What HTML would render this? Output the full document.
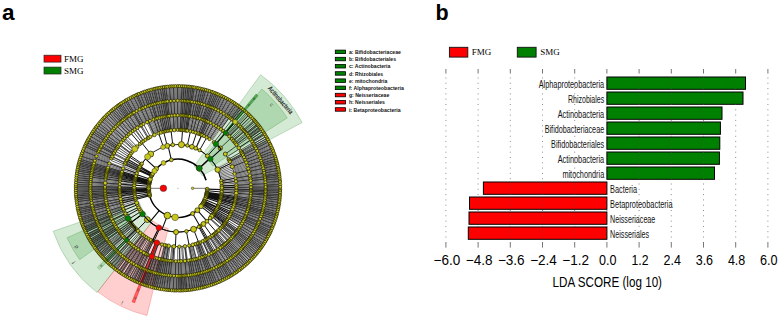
<!DOCTYPE html>
<html><head><meta charset="utf-8"><style>
html,body{margin:0;padding:0;background:#fff;}
body{width:778px;height:317px;overflow:hidden;}
svg{display:block;font-family:"Liberation Sans",sans-serif;}
.serif{font-family:"Liberation Serif",serif;}
</style></head><body>
<svg width="778" height="317" viewBox="0 0 778 317">
<rect width="778" height="317" fill="#fff"/>
<text x="2" y="20.3" font-size="22.5" font-weight="bold">a</text>
<text x="435.5" y="20.3" font-size="21.5" font-weight="bold">b</text>
<rect x="44" y="55.2" width="17" height="6.9" fill="#ff0000" stroke="#222" stroke-width="0.7"/>
<rect x="44" y="67.1" width="17" height="6.9" fill="#008000" stroke="#222" stroke-width="0.7"/>
<text class="serif" x="64" y="62.1" font-size="9">FMG</text>
<text class="serif" x="64" y="73.8" font-size="9">SMG</text>
<rect x="449.4" y="47.3" width="18.4" height="9.8" fill="#ff0000" stroke="#111" stroke-width="0.9"/>
<rect x="517.3" y="47.3" width="18.8" height="9.8" fill="#008000" stroke="#111" stroke-width="0.9"/>
<text class="serif" x="471.7" y="55.3" font-size="9">FMG</text>
<text class="serif" x="540.3" y="55.3" font-size="9">SMG</text>
<path d="M260.58 74.63A140.5 140.5 0 0 1 302.17 122.56L202.04 175.57A27.2 27.2 0 0 0 193.99 166.29Z" fill="rgba(0,128,0,0.17)" stroke="rgba(0,110,0,0.35)" stroke-width="0.6"/>
<path d="M261.91 89.01A130 130 0 0 1 287.27 117.88L212.72 165.93A41.3 41.3 0 0 0 204.66 156.76Z" fill="rgba(0,128,0,0.17)" stroke="rgba(0,110,0,0.35)" stroke-width="0.6"/>
<path d="M255.96 94.07A122.3 122.3 0 0 1 258.07 95.86L214.6 146.05A55.9 55.9 0 0 0 213.63 145.23Z" fill="rgba(0,128,0,0.28)" stroke="rgba(0,110,0,0.35)" stroke-width="0.6"/>
<path d="M256.12 94.2A122.3 122.3 0 0 1 257.91 95.72L224.07 134.93A70.5 70.5 0 0 0 223.03 134.06Z" fill="rgba(0,128,0,0.28)" stroke="rgba(0,110,0,0.35)" stroke-width="0.6"/>
<path d="M97.1 292.6A132 132 0 0 1 53.19 231.27L138.95 201.75A41.3 41.3 0 0 0 152.69 220.93Z" fill="rgba(0,128,0,0.17)" stroke="rgba(0,110,0,0.35)" stroke-width="0.6"/>
<path d="M79.7 259.72A121.5 121.5 0 0 1 67 237.72L126.93 211.04A55.9 55.9 0 0 0 132.78 221.16Z" fill="rgba(0,128,0,0.17)" stroke="rgba(0,110,0,0.35)" stroke-width="0.6"/>
<path d="M99.5 269.59A113 113 0 0 1 97.26 267.36L127.63 237.63A70.5 70.5 0 0 0 129.03 239.01Z" fill="rgba(0,128,0,0.17)" stroke="rgba(0,110,0,0.35)" stroke-width="0.6"/>
<path d="M146.97 315.57A131 131 0 0 1 97.71 291.81L152.69 220.93A41.3 41.3 0 0 0 168.22 228.42Z" fill="rgba(255,0,0,0.19)" stroke="rgba(220,0,0,0.35)" stroke-width="0.6"/>
<path d="M134.73 302.8A122.4 122.4 0 0 1 131.95 301.71L156.97 240.09A55.9 55.9 0 0 0 158.24 240.59Z" fill="rgba(255,0,0,0.3)" stroke="rgba(220,0,0,0.35)" stroke-width="0.6"/>
<path d="M134.53 302.72A122.4 122.4 0 0 1 132.15 301.79L151.59 253.67A70.5 70.5 0 0 0 152.96 254.21Z" fill="rgba(255,0,0,0.3)" stroke="rgba(220,0,0,0.35)" stroke-width="0.6"/>
<path d="M222.4 188.3L235.8 188.3M222.38 189.6L235.78 190M222.32 190.91L235.7 191.69M222.23 192.21L235.58 193.38M222.09 193.5L235.4 195.07M221.92 194.79L235.18 196.75M221.71 196.08L234.91 198.43M221.47 197.36L234.58 200.1M221.18 198.63L234.21 201.75M220.86 199.9L233.79 203.4M220.5 201.15L233.33 205.03M220.1 202.39L232.81 206.64M219.67 203.62L232.25 208.25M219.2 204.84L231.64 209.83M218.7 206.04L230.99 211.4M218.16 207.23L230.28 212.94M217.59 208.4L229.54 214.47M216.98 209.55L228.75 215.97M216.34 210.69L227.91 217.44M215.67 211.8L227.04 218.9M214.96 212.9L226.12 220.32M214.22 213.97L225.16 221.72M213.46 215.03L224.16 223.09M212.66 216.06L223.11 224.43M210.08 219L219.76 228.26M135.9 202.39L123.19 206.64M135.5 201.15L122.67 205.03M135.14 199.9L122.21 203.4M134.82 198.63L121.79 201.75M134.53 197.36L121.42 200.1M134.29 196.08L121.09 198.43M134.08 194.79L120.82 196.75M133.91 193.5L120.6 195.07M133.77 192.21L120.42 193.38M133.68 190.91L120.3 191.69M133.62 189.6L120.22 190M133.6 188.3L120.2 188.3M133.62 187L120.22 186.6M133.68 185.69L120.3 184.91M133.77 184.39L120.42 183.22M133.91 183.1L120.6 181.53M134.08 181.81L120.82 179.85M134.29 180.52L121.09 178.17M134.53 179.24L121.42 176.5M134.82 177.97L121.79 174.85M135.14 176.7L122.21 173.2M135.5 175.45L122.67 171.57M135.9 174.21L123.19 169.96M136.33 172.98L123.75 168.35M136.8 171.76L124.36 166.77M137.3 170.56L125.01 165.2M137.84 169.37L125.72 163.66M138.41 168.2L126.46 162.13M139.02 167.05L127.25 160.63M139.66 165.91L128.09 159.16M196.34 147.86L201.87 135.66M217.59 168.2L229.54 162.13M218.16 169.37L230.28 163.66M218.7 170.56L230.99 165.2M219.2 171.76L231.64 166.77M219.67 172.98L232.25 168.35M220.1 174.21L232.81 169.96M220.5 175.45L233.33 171.57M220.86 176.7L233.79 173.2M221.18 177.97L234.21 174.85M221.47 179.24L234.58 176.5M221.71 180.52L234.91 178.17M221.92 181.81L235.18 179.85M222.09 183.1L235.4 181.53M222.23 184.39L235.58 183.22M222.32 185.69L235.7 184.91M222.38 187L235.78 186.6M237 188.3L250.4 188.3M236.99 189.29L250.39 189.51M236.97 190.28L250.36 190.73M236.93 191.26L250.31 191.94M236.87 192.25L250.24 193.15M236.79 193.24L250.15 194.36M236.7 194.22L250.03 195.57M236.59 195.2L249.9 196.77M236.47 196.18L249.75 197.98M236.33 197.16L249.58 199.18M236.17 198.14L249.39 200.37M236 199.11L249.17 201.57M235.81 200.08L248.94 202.76M235.61 201.05L248.69 203.95M235.38 202.01L248.42 205.13M235.15 202.97L248.13 206.31M234.89 203.93L247.81 207.48M234.62 204.88L247.48 208.64M234.34 205.83L247.13 209.81M234.04 206.77L246.76 210.96M233.72 207.7L246.37 212.11M233.39 208.63L245.96 213.25M233.04 209.56L245.54 214.39M232.67 210.48L245.09 215.52M232.29 211.39L244.62 216.64M231.9 212.3L244.14 217.75M231.49 213.2L243.64 218.85M231.06 214.09L243.12 219.95M230.63 214.98L242.58 221.03M230.17 215.85L242.02 222.11M229.7 216.72L241.44 223.18M229.22 217.59L240.85 224.24M228.72 218.44L240.24 225.29M226.59 221.77L237.62 229.37M226.02 222.58L236.93 230.36M225.44 223.38L236.21 231.34M224.85 224.17L235.48 232.31M223.62 225.72L233.98 234.22M222.98 226.48L233.2 235.15M222.34 227.22L232.41 236.07M221.68 227.96L231.6 236.97M220.33 229.4L229.94 238.74M219.63 230.11L229.09 239.6M218.93 230.8L228.22 240.45M218.21 231.48L227.34 241.28M215.99 233.44L224.62 243.7M215.23 234.07L223.68 244.47M213.67 235.3L221.77 245.97M212.88 235.89L220.8 246.69M211.27 237.03L218.82 248.1M210.44 237.58L217.81 248.77M209.61 238.12L216.79 249.43M207.07 239.64L213.67 251.3M206.21 240.12L212.61 251.89M205.33 240.59L211.54 252.46M203.57 241.47L209.37 253.55M202.67 241.89L208.28 254.07M200.86 242.69L206.06 255.04M199.95 243.07L204.93 255.5M199.03 243.43L203.8 255.95M198.1 243.77L202.67 256.37M197.17 244.1L201.52 256.77M196.23 244.41L200.37 257.16M192.43 245.51L195.71 258.5M191.47 245.74L194.53 258.79M190.51 245.96L193.35 259.05M189.54 246.16L192.16 259.3M188.57 246.35L190.97 259.53M185.64 246.8L187.37 260.09M184.66 246.92L186.17 260.24M182.69 247.11L183.76 260.47M181.7 247.18L182.55 260.56M179.73 247.27L180.12 260.67M177.75 247.3L177.7 260.7M174.79 247.21L174.06 260.59M173.8 247.15L172.85 260.52M172.82 247.07L171.64 260.42M171.83 246.98L170.43 260.3M169.87 246.74L168.02 260.01M168.89 246.59L166.82 259.83M167.92 246.43L165.63 259.63M166.94 246.25L164.43 259.42M165.98 246.06L163.24 259.18M165.01 245.85L162.06 258.92M158.36 243.94L153.9 256.57M157.43 243.6L152.76 256.16M155.59 242.88L150.5 255.28M152.88 241.68L147.17 253.81M151.99 241.26L146.08 253.28M151.1 240.81L145 252.74M149.36 239.88L142.86 251.6M146.8 238.38L139.72 249.75M145.97 237.85L138.7 249.1M145.14 237.31L137.68 248.44M144.33 236.75L136.68 247.75M142.72 235.59L134.71 246.33M141.94 234.99L133.75 245.6M141.16 234.38L132.79 244.85M138.89 232.47L130.01 242.51M137.43 231.14L128.22 240.87M136.72 230.45L127.34 240.03M134.65 228.33L124.81 237.42M132.7 226.1L122.41 234.68M132.07 225.33L121.64 233.74M131.46 224.56L120.89 232.79M130.86 223.77L120.15 231.83M129.69 222.17L118.72 229.87M127.53 218.86L116.07 225.81M126.54 217.16L114.85 223.71M125.15 214.53L113.15 220.49M124.72 213.64L112.62 219.4M123.9 211.85L111.61 217.19M123.51 210.94L111.14 216.08M122.79 209.1L110.25 213.82M122.45 208.17L109.83 212.68M122.12 207.24L109.43 211.54M121.81 206.3L109.05 210.38M121.52 205.35L108.69 209.23M121.24 204.4L108.35 208.06M120.98 203.45L108.03 206.89M120.73 202.49L107.73 205.72M120.5 201.53L107.44 204.54M120.29 200.57L107.18 203.35M120.09 199.6L106.94 202.16M119.91 198.63L106.72 200.97M119.75 197.65L106.52 199.78M119.6 196.67L106.33 198.58M119.47 195.69L106.17 197.37M119.35 194.71L106.03 196.17M119.25 193.73L105.91 194.96M119.17 192.74L105.81 193.75M119.1 191.76L105.72 192.54M119.05 190.77L105.66 191.33M119.02 189.78L105.62 190.12M119 188.79L105.6 188.91M119 187.81L105.6 187.69M119.02 186.82L105.62 186.48M119.05 185.83L105.66 185.27M119.1 184.84L105.72 184.06M119.17 183.86L105.81 182.85M119.25 182.87L105.91 181.64M119.35 181.89L106.03 180.43M119.47 180.91L106.17 179.23M119.6 179.93L106.33 178.02M119.75 178.95L106.52 176.82M119.91 177.97L106.72 175.63M120.09 177L106.94 174.44M120.29 176.03L107.18 173.25M120.5 175.07L107.44 172.06M120.73 174.11L107.73 170.88M120.98 173.15L108.03 169.71M121.24 172.2L108.35 168.54M121.52 171.25L108.69 167.37M121.81 170.3L109.05 166.22M122.12 169.36L109.43 165.06M122.45 168.43L109.83 163.92M122.79 167.5L110.25 162.78M123.51 165.66L111.14 160.52M124.72 162.96L112.62 157.2M130.27 153.62L119.43 145.74M130.86 152.83L120.15 144.77M133.34 149.75L123.19 140.99M134.65 148.27L124.81 139.18M135.33 147.55L125.64 138.3M139.64 143.48L130.92 133.3M143.52 140.42L135.69 129.55M152.88 134.92L147.17 122.79M153.78 134.5L148.28 122.28M154.68 134.1L149.39 121.79M155.59 133.72L150.5 121.32M156.51 133.35L151.63 120.87M157.43 133L152.76 120.44M158.36 132.66L153.9 120.03M159.3 132.34L155.05 119.63M160.24 132.04L156.2 119.26M161.18 131.75L157.36 118.9M162.13 131.47L158.53 118.57M163.09 131.22L159.7 118.25M164.05 130.97L160.88 117.95M165.01 130.75L162.06 117.68M165.98 130.54L163.24 117.42M166.94 130.35L164.43 117.18M167.92 130.17L165.63 116.97M168.89 130.01L166.82 116.77M169.87 129.86L168.02 116.59M170.85 129.73L169.23 116.43M171.83 129.62L170.43 116.3M172.82 129.53L171.64 116.18M173.8 129.45L172.85 116.08M174.79 129.39L174.06 116.01M175.78 129.34L175.27 115.95M176.76 129.31L176.48 115.92M177.75 129.3L177.7 115.9M178.74 129.3L178.91 115.91M179.73 129.33L180.12 115.93M180.72 129.36L181.33 115.98M181.7 129.42L182.55 116.04M182.69 129.49L183.76 116.13M183.68 129.57L184.96 116.24M184.66 129.68L186.17 116.36M185.64 129.8L187.37 116.51M186.62 129.93L188.58 116.68M187.6 130.09L189.77 116.86M188.57 130.25L190.97 117.07M189.54 130.44L192.16 117.3M190.51 130.64L193.35 117.55M191.47 130.86L194.53 117.81M192.43 131.09L195.71 118.1M193.39 131.34L196.88 118.41M194.34 131.61L198.05 118.73M195.29 131.89L199.22 119.08M196.23 132.19L200.37 119.44M197.17 132.5L201.52 119.83M198.1 132.83L202.67 120.23M199.03 133.17L203.8 120.65M199.95 133.53L204.93 121.1M200.86 133.91L206.06 121.56M201.77 134.3L207.17 122.04M202.67 134.71L208.28 122.53M203.57 135.13L209.37 123.05M204.45 135.56L210.46 123.59M205.33 136.01L211.54 124.14M206.21 136.48L212.61 124.71M207.07 136.96L213.67 125.3M207.93 137.45L214.72 125.91M208.77 137.96L215.76 126.53M209.61 138.48L216.79 127.17M210.44 139.02L217.81 127.83M211.27 139.57L218.82 128.5M212.08 140.14L219.82 129.2M227.68 156.48L238.97 149.25M230.17 160.75L242.02 154.49M230.63 161.62L242.58 155.57M231.06 162.51L243.12 156.65M231.49 163.4L243.64 157.75M231.9 164.3L244.14 158.85M232.29 165.21L244.62 159.96M232.67 166.12L245.09 161.08M233.04 167.04L245.54 162.21M233.39 167.97L245.96 163.35M233.72 168.9L246.37 164.49M234.04 169.83L246.76 165.64M234.34 170.77L247.13 166.79M234.62 171.72L247.48 167.96M234.89 172.67L247.81 169.12M235.15 173.63L248.13 170.29M235.38 174.59L248.42 171.47M235.61 175.55L248.69 172.65M235.81 176.52L248.94 173.84M236 177.49L249.17 175.03M236.17 178.46L249.39 176.23M236.33 179.44L249.58 177.42M236.47 180.42L249.75 178.62M236.59 181.4L249.9 179.83M236.7 182.38L250.03 181.03M236.79 183.36L250.15 182.24M236.87 184.35L250.24 183.45M236.93 185.34L250.31 184.66M236.97 186.32L250.36 185.87M236.99 187.31L250.39 187.09M251.6 188.3L265 188.3M251.59 189.22L264.99 189.38M251.58 190.13L264.97 190.47M251.55 191.05L264.94 191.55M251.51 191.97L264.89 192.64M251.46 192.88L264.83 193.72M251.39 193.8L264.76 194.8M251.32 194.71L264.67 195.88M251.23 195.63L264.57 196.96M251.14 196.54L264.45 198.04M251.03 197.45L264.32 199.12M250.91 198.36L264.18 200.19M250.78 199.27L264.03 201.27M250.64 200.18L263.86 202.34M250.48 201.08L263.68 203.41M250.32 201.98L263.48 204.47M250.14 202.88L263.28 205.54M249.95 203.78L263.05 206.6M249.75 204.68L262.82 207.66M249.54 205.57L262.57 208.72M249.32 206.46L262.31 209.77M249.09 207.35L262.04 210.82M248.85 208.23L261.75 211.86M248.6 209.12L261.45 212.91M248.33 209.99L261.13 213.94M248.05 210.87L260.81 214.98M247.77 211.74L260.47 216.01M247.47 212.61L260.12 217.03M247.16 213.47L259.75 218.06M246.84 214.33L259.38 219.07M246.51 215.19L258.99 220.08M246.17 216.04L258.58 221.09M245.82 216.89L258.17 222.09M245.46 217.73L257.74 223.09M245.09 218.57L257.3 224.08M244.7 219.4L256.85 225.07M244.31 220.23L256.38 226.05M243.91 221.06L255.91 227.02M243.49 221.88L255.42 227.99M243.07 222.69L254.92 228.95M242.64 223.5L254.41 229.91M242.19 224.3L253.88 230.86M241.74 225.1L253.34 231.8M241.28 225.89L252.8 232.74M240.8 226.68L252.24 233.66M240.32 227.46L251.67 234.59M239.83 228.23L251.08 235.5M239.32 229L250.49 236.41M238.81 229.76L249.88 237.31M238.29 230.52L249.27 238.2M237.76 231.26L248.64 239.09M237.22 232.01L248 239.96M236.67 232.74L247.35 240.83M236.11 233.47L246.69 241.69M235.54 234.19L246.02 242.54M234.97 234.9L245.34 243.39M234.38 235.61L244.65 244.22M233.79 236.31L243.94 245.05M233.18 237L243.23 245.87M232.57 237.68L242.51 246.68M231.95 238.36L241.78 247.48M231.32 239.03L241.03 248.27M230.69 239.69L240.28 249.05M230.04 240.34L239.52 249.82M229.39 240.99L238.75 250.58M228.73 241.62L237.97 251.33M228.06 242.25L237.18 252.08M227.38 242.87L236.38 252.81M226.7 243.48L235.57 253.53M226.01 244.09L234.75 254.24M225.31 244.68L233.92 254.95M224.6 245.27L233.09 255.64M223.89 245.84L232.24 256.32M223.17 246.41L231.39 256.99M222.44 246.97L230.53 257.65M221.71 247.52L229.66 258.3M220.96 248.06L228.79 258.94M220.22 248.59L227.9 259.57M219.46 249.11L227.01 260.18M218.7 249.62L226.11 260.79M217.93 250.13L225.2 261.38M217.16 250.62L224.29 261.97M216.38 251.1L223.36 262.54M215.59 251.58L222.44 263.1M214.8 252.04L221.5 263.64M214 252.49L220.56 264.18M213.2 252.94L219.61 264.71M212.39 253.37L218.65 265.22M211.58 253.79L217.69 265.72M210.76 254.21L216.72 266.21M209.93 254.61L215.75 266.68M209.1 255L214.77 267.15M208.27 255.39L213.78 267.6M207.43 255.76L212.79 268.04M206.59 256.12L211.79 268.47M205.74 256.47L210.79 268.88M204.89 256.81L209.78 269.29M204.03 257.14L208.77 269.68M203.17 257.46L207.76 270.05M202.31 257.77L206.73 270.42M201.44 258.07L205.71 270.77M200.57 258.35L204.68 271.11M199.69 258.63L203.64 271.43M198.82 258.9L202.61 271.75M197.93 259.15L201.56 272.05M197.05 259.39L200.52 272.34M196.16 259.62L199.47 272.61M195.27 259.84L198.42 272.87M194.38 260.05L197.36 273.12M193.48 260.25L196.3 273.35M192.58 260.44L195.24 273.58M191.68 260.62L194.17 273.78M190.78 260.78L193.11 273.98M189.88 260.94L192.04 274.16M188.97 261.08L190.97 274.33M188.06 261.21L189.89 274.48M187.15 261.33L188.82 274.62M186.24 261.44L187.74 274.75M185.33 261.53L186.66 274.87M184.41 261.62L185.58 274.97M183.5 261.69L184.5 275.06M182.58 261.76L183.42 275.13M181.67 261.81L182.34 275.19M180.75 261.85L181.25 275.24M179.83 261.88L180.17 275.27M178.92 261.89L179.08 275.29M178 261.9L178 275.3M177.08 261.89L176.92 275.29M176.17 261.88L175.83 275.27M175.25 261.85L174.75 275.24M174.33 261.81L173.66 275.19M173.42 261.76L172.58 275.13M172.5 261.69L171.5 275.06M171.59 261.62L170.42 274.97M170.67 261.53L169.34 274.87M169.76 261.44L168.26 274.75M168.85 261.33L167.18 274.62M167.94 261.21L166.11 274.48M167.03 261.08L165.03 274.33M166.12 260.94L163.96 274.16M165.22 260.78L162.89 273.98M164.32 260.62L161.83 273.78M163.42 260.44L160.76 273.58M162.52 260.25L159.7 273.35M161.62 260.05L158.64 273.12M160.73 259.84L157.58 272.87M159.84 259.62L156.53 272.61M158.95 259.39L155.48 272.34M158.07 259.15L154.44 272.05M157.18 258.9L153.39 271.75M156.31 258.63L152.36 271.43M155.43 258.35L151.32 271.11M154.56 258.07L150.29 270.77M153.69 257.77L149.27 270.42M152.83 257.46L148.24 270.05M151.97 257.14L147.23 269.68M150.26 256.47L145.21 268.88M148.57 255.76L143.21 268.04M147.73 255.39L142.22 267.6M145.24 254.21L139.28 266.21M144.42 253.79L138.31 265.72M143.61 253.37L137.35 265.22M142.8 252.94L136.39 264.71M142 252.49L135.44 264.18M141.2 252.04L134.5 263.64M140.41 251.58L133.56 263.1M139.62 251.1L132.64 262.54M138.84 250.62L131.71 261.97M138.07 250.13L130.8 261.38M137.3 249.62L129.89 260.79M136.54 249.11L128.99 260.18M135.78 248.59L128.1 259.57M135.04 248.06L127.21 258.94M134.29 247.52L126.34 258.3M133.56 246.97L125.47 257.65M132.83 246.41L124.61 256.99M132.11 245.84L123.76 256.32M130.69 244.68L122.08 254.95M129.3 243.48L120.43 253.53M128.62 242.87L119.62 252.81M127.94 242.25L118.82 252.08M126.61 240.99L117.25 250.58M125.96 240.34L116.48 249.82M125.31 239.69L115.72 249.05M123.43 237.68L113.49 246.68M122.82 237L112.77 245.87M122.21 236.31L112.06 245.05M121.62 235.61L111.35 244.22M121.03 234.9L110.66 243.39M119.89 233.47L109.31 241.69M118.24 231.26L107.36 239.09M117.19 229.76L106.12 237.31M116.68 229L105.51 236.41M116.17 228.23L104.92 235.5M115.68 227.46L104.33 234.59M115.2 226.68L103.76 233.66M114.72 225.89L103.2 232.74M114.26 225.1L102.66 231.8M113.81 224.3L102.12 230.86M112.51 221.88L100.58 227.99M112.09 221.06L100.09 227.02M111.69 220.23L99.62 226.05M111.3 219.4L99.15 225.07M110.91 218.57L98.7 224.08M110.54 217.73L98.26 223.09M110.18 216.89L97.83 222.09M109.83 216.04L97.42 221.09M109.49 215.19L97.01 220.08M108.84 213.47L96.25 218.06M108.53 212.61L95.88 217.03M108.23 211.74L95.53 216.01M107.95 210.87L95.19 214.98M107.67 209.99L94.87 213.94M107.4 209.12L94.55 212.91M107.15 208.23L94.25 211.86M106.91 207.35L93.96 210.82M106.68 206.46L93.69 209.77M106.46 205.57L93.43 208.72M106.25 204.68L93.18 207.66M106.05 203.78L92.95 206.6M105.86 202.88L92.72 205.54M105.68 201.98L92.52 204.47M105.52 201.08L92.32 203.41M105.36 200.18L92.14 202.34M105.22 199.27L91.97 201.27M105.09 198.36L91.82 200.19M104.97 197.45L91.68 199.12M104.86 196.54L91.55 198.04M104.77 195.63L91.43 196.96M104.68 194.71L91.33 195.88M104.61 193.8L91.24 194.8M104.54 192.88L91.17 193.72M104.49 191.97L91.11 192.64M104.45 191.05L91.06 191.55M104.42 190.13L91.03 190.47M104.41 189.22L91.01 189.38M104.4 188.3L91 188.3M104.41 187.38L91.01 187.22M104.42 186.47L91.03 186.13M104.45 185.55L91.06 185.05M104.49 184.63L91.11 183.96M104.54 183.72L91.17 182.88M104.61 182.8L91.24 181.8M104.68 181.89L91.33 180.72M104.77 180.97L91.43 179.64M104.86 180.06L91.55 178.56M104.97 179.15L91.68 177.48M105.09 178.24L91.82 176.41M105.22 177.33L91.97 175.33M105.36 176.42L92.14 174.26M105.52 175.52L92.32 173.19M105.68 174.62L92.52 172.13M105.86 173.72L92.72 171.06M106.05 172.82L92.95 170M106.25 171.92L93.18 168.94M106.46 171.03L93.43 167.88M106.68 170.14L93.69 166.83M106.91 169.25L93.96 165.78M107.15 168.37L94.25 164.74M107.4 167.48L94.55 163.69M107.67 166.61L94.87 162.66M107.95 165.73L95.19 161.62M108.23 164.86L95.53 160.59M108.53 163.99L95.88 159.57M108.84 163.13L96.25 158.54M109.16 162.27L96.62 157.53M109.49 161.41L97.01 156.52M109.83 160.56L97.42 155.51M110.18 159.71L97.83 154.51M110.54 158.87L98.26 153.51M110.91 158.03L98.7 152.52M111.3 157.2L99.15 151.53M111.69 156.37L99.62 150.55M112.09 155.54L100.09 149.58M112.51 154.72L100.58 148.61M112.93 153.91L101.08 147.65M113.36 153.1L101.59 146.69M113.81 152.3L102.12 145.74M114.26 151.5L102.66 144.8M114.72 150.71L103.2 143.86M115.2 149.92L103.76 142.94M115.68 149.14L104.33 142.01M116.17 148.37L104.92 141.1M116.68 147.6L105.51 140.19M117.19 146.84L106.12 139.29M117.71 146.08L106.73 138.4M118.24 145.34L107.36 137.51M118.78 144.59L108 136.64M119.33 143.86L108.65 135.77M119.89 143.13L109.31 134.91M120.46 142.41L109.98 134.06M121.03 141.7L110.66 133.21M121.62 140.99L111.35 132.38M122.21 140.29L112.06 131.55M122.82 139.6L112.77 130.73M123.43 138.92L113.49 129.92M124.05 138.24L114.22 129.12M124.68 137.57L114.97 128.33M125.31 136.91L115.72 127.55M125.96 136.26L116.48 126.78M126.61 135.61L117.25 126.02M127.27 134.98L118.03 125.27M127.94 134.35L118.82 124.52M128.62 133.73L119.62 123.79M129.3 133.12L120.43 123.07M129.99 132.51L121.25 122.36M130.69 131.92L122.08 121.65M131.4 131.33L122.91 120.96M132.11 130.76L123.76 120.28M132.83 130.19L124.61 119.61M133.56 129.63L125.47 118.95M134.29 129.08L126.34 118.3M135.04 128.54L127.21 117.66M135.78 128.01L128.1 117.03M136.54 127.49L128.99 116.42M137.3 126.98L129.89 115.81M138.07 126.47L130.8 115.22M138.84 125.98L131.71 114.63M139.62 125.5L132.64 114.06M140.41 125.02L133.56 113.5M141.2 124.56L134.5 112.96M142 124.11L135.44 112.42M142.8 123.66L136.39 111.89M143.61 123.23L137.35 111.38M144.42 122.81L138.31 110.88M145.24 122.39L139.28 110.39M146.07 121.99L140.25 109.92M146.9 121.6L141.23 109.45M147.73 121.21L142.22 109M148.57 120.84L143.21 108.56M149.41 120.48L144.21 108.13M150.26 120.13L145.21 107.72M151.11 119.79L146.22 107.31M151.97 119.46L147.23 106.92M152.83 119.14L148.24 106.55M153.69 118.83L149.27 106.18M154.56 118.53L150.29 105.83M155.43 118.25L151.32 105.49M156.31 117.97L152.36 105.17M157.18 117.7L153.39 104.85M158.07 117.45L154.44 104.55M158.95 117.21L155.48 104.26M159.84 116.98L156.53 103.99M160.73 116.76L157.58 103.73M161.62 116.55L158.64 103.48M162.52 116.35L159.7 103.25M163.42 116.16L160.76 103.02M164.32 115.98L161.83 102.82M165.22 115.82L162.89 102.62M166.12 115.66L163.96 102.44M167.03 115.52L165.03 102.27M167.94 115.39L166.11 102.12M168.85 115.27L167.18 101.98M169.76 115.16L168.26 101.85M170.67 115.07L169.34 101.73M171.59 114.98L170.42 101.63M172.5 114.91L171.5 101.54M173.42 114.84L172.58 101.47M174.33 114.79L173.66 101.41M175.25 114.75L174.75 101.36M176.17 114.72L175.83 101.33M177.08 114.71L176.92 101.31M178 114.7L178 101.3M178.92 114.71L179.08 101.31M179.83 114.72L180.17 101.33M180.75 114.75L181.25 101.36M181.67 114.79L182.34 101.41M182.58 114.84L183.42 101.47M183.5 114.91L184.5 101.54M184.41 114.98L185.58 101.63M185.33 115.07L186.66 101.73M186.24 115.16L187.74 101.85M187.15 115.27L188.82 101.98M188.06 115.39L189.89 102.12M188.97 115.52L190.97 102.27M189.88 115.66L192.04 102.44M190.78 115.82L193.11 102.62M191.68 115.98L194.17 102.82M192.58 116.16L195.24 103.02M193.48 116.35L196.3 103.25M194.38 116.55L197.36 103.48M195.27 116.76L198.42 103.73M196.16 116.98L199.47 103.99M197.05 117.21L200.52 104.26M197.93 117.45L201.56 104.55M198.82 117.7L202.61 104.85M199.69 117.97L203.64 105.17M200.57 118.25L204.68 105.49M201.44 118.53L205.71 105.83M202.31 118.83L206.73 106.18M203.17 119.14L207.76 106.55M204.03 119.46L208.77 106.92M204.89 119.79L209.78 107.31M205.74 120.13L210.79 107.72M206.59 120.48L211.79 108.13M207.43 120.84L212.79 108.56M208.27 121.21L213.78 109M209.1 121.6L214.77 109.45M209.93 121.99L215.75 109.92M210.76 122.39L216.72 110.39M211.58 122.81L217.69 110.88M212.39 123.23L218.65 111.38M213.2 123.66L219.61 111.89M214 124.11L220.56 112.42M214.8 124.56L221.5 112.96M215.59 125.02L222.44 113.5M216.38 125.5L223.36 114.06M217.16 125.98L224.29 114.63M217.93 126.47L225.2 115.22M218.7 126.98L226.11 115.81M219.46 127.49L227.01 116.42M220.22 128.01L227.9 117.03M220.96 128.54L228.79 117.66M228.06 134.35L237.18 124.52M228.73 134.98L237.97 125.27M229.39 135.61L238.75 126.02M230.04 136.26L239.52 126.78M231.32 137.57L241.03 128.33M233.18 139.6L243.23 130.73M233.79 140.29L243.94 131.55M236.67 143.86L247.35 135.77M237.76 145.34L248.64 137.51M239.32 147.6L250.49 140.19M240.8 149.92L252.24 142.94M241.74 151.5L253.34 144.8M243.07 153.91L254.92 147.65M243.49 154.72L255.42 148.61M243.91 155.54L255.91 149.58M244.31 156.37L256.38 150.55M244.7 157.2L256.85 151.53M245.09 158.03L257.3 152.52M245.46 158.87L257.74 153.51M245.82 159.71L258.17 154.51M246.17 160.56L258.58 155.51M246.51 161.41L258.99 156.52M246.84 162.27L259.38 157.53M247.16 163.13L259.75 158.54M247.47 163.99L260.12 159.57M247.77 164.86L260.47 160.59M248.05 165.73L260.81 161.62M248.33 166.61L261.13 162.66M248.6 167.48L261.45 163.69M248.85 168.37L261.75 164.74M249.09 169.25L262.04 165.78M249.32 170.14L262.31 166.83M249.54 171.03L262.57 167.88M249.75 171.92L262.82 168.94M249.95 172.82L263.05 170M250.14 173.72L263.28 171.06M250.32 174.62L263.48 172.13M250.48 175.52L263.68 173.19M250.64 176.42L263.86 174.26M250.78 177.33L264.03 175.33M250.91 178.24L264.18 176.41M251.03 179.15L264.32 177.48M251.14 180.06L264.45 178.56M251.23 180.97L264.57 179.64M251.32 181.89L264.67 180.72M251.39 182.8L264.76 181.8M251.46 183.72L264.83 182.88M251.51 184.63L264.89 183.96M251.55 185.55L264.94 185.05M251.58 186.47L264.97 186.13M251.59 187.38L264.99 187.22M266.2 188.3L279.6 188.3M266.2 189.18L279.59 189.32M266.18 190.07L279.58 190.34M266.16 190.95L279.55 191.35M266.13 191.83L279.52 192.37M266.09 192.72L279.47 193.39M266.04 193.6L279.42 194.41M265.98 194.48L279.35 195.42M265.92 195.36L279.27 196.44M265.84 196.24L279.19 197.45M265.76 197.12L279.09 198.46M265.66 198L278.98 199.48M265.56 198.88L278.87 200.49M265.45 199.76L278.74 201.5M265.33 200.63L278.6 202.51M265.21 201.51L278.45 203.51M265.07 202.38L278.3 204.52M264.92 203.25L278.13 205.52M264.77 204.12L277.95 206.53M264.61 204.99L277.76 207.53M264.43 205.86L277.57 208.53M264.25 206.72L277.36 209.52M264.07 207.59L277.14 210.52M263.87 208.45L276.91 211.51M263.66 209.31L276.68 212.5M263.45 210.17L276.43 213.49M263.22 211.02L276.17 214.47M262.99 211.87L275.9 215.46M262.75 212.72L275.63 216.44M262.5 213.57L275.34 217.41M262.24 214.42L275.04 218.39M261.98 215.26L274.74 219.36M261.7 216.1L274.42 220.32M261.42 216.94L274.1 221.29M261.13 217.77L273.76 222.25M260.83 218.6L273.41 223.21M260.52 219.43L273.06 224.16M260.21 220.26L272.7 225.11M259.88 221.08L272.32 226.06M259.55 221.9L271.94 227M259.21 222.72L271.55 227.94M258.86 223.53L271.14 228.88M258.5 224.34L270.73 229.81M258.14 225.14L270.31 230.74M257.76 225.94L269.88 231.66M257.38 226.74L269.44 232.58M256.99 227.53L269 233.49M256.6 228.32L268.54 234.4M256.19 229.11L268.07 235.31M255.78 229.89L267.6 236.21M255.36 230.67L267.11 237.1M254.93 231.44L266.62 237.99M254.49 232.21L266.12 238.88M254.05 232.97L265.6 239.76M253.6 233.73L265.08 240.64M253.14 234.49L264.56 241.51M252.67 235.24L264.02 242.37M252.2 235.98L263.47 243.23M251.72 236.73L262.92 244.08M251.23 237.46L262.35 244.93M250.73 238.19L261.78 245.77M250.23 238.92L261.2 246.61M249.72 239.64L260.61 247.44M249.2 240.36L260.02 248.27M248.67 241.07L259.41 249.08M248.14 241.77L258.8 249.9M247.6 242.47L258.18 250.7M247.06 243.17L257.55 251.5M246.5 243.86L256.91 252.3M245.94 244.54L256.26 253.09M245.38 245.22L255.61 253.87M244.8 245.89L254.95 254.64M244.22 246.56L254.28 255.41M243.63 247.22L253.61 256.17M243.04 247.87L252.92 256.92M242.44 248.52L252.23 257.67M241.83 249.16L251.53 258.41M241.22 249.8L250.83 259.15M240.6 250.43L250.11 259.87M239.97 251.06L249.39 260.59M239.34 251.67L248.66 261.3M238.7 252.29L247.93 262.01M238.06 252.89L247.19 262.7M237.41 253.49L246.44 263.39M236.75 254.08L245.68 264.08M236.09 254.67L244.92 264.75M235.42 255.25L244.15 265.42M234.75 255.82L243.37 266.08M234.07 256.38L242.59 266.73M233.39 256.94L241.8 267.37M232.7 257.49L241 268.01M232 258.04L240.2 268.63M231.3 258.58L239.39 269.25M230.59 259.11L238.58 269.86M229.88 259.63L237.76 270.47M229.16 260.15L236.93 271.06M228.44 260.65L236.1 271.65M227.71 261.16L235.26 272.23M226.98 261.65L234.42 272.79M226.24 262.14L233.57 273.36M225.5 262.62L232.71 273.91M224.75 263.09L231.85 274.45M224 263.55L230.99 274.99M223.24 264.01L230.12 275.51M222.48 264.46L229.24 276.03M221.72 264.9L228.36 276.54M220.95 265.34L227.47 277.04M220.17 265.76L226.58 277.53M219.39 266.18L225.68 278.02M218.61 266.59L224.78 278.49M217.83 267L223.88 278.95M217.03 267.39L222.97 279.41M216.24 267.78L222.05 279.85M215.44 268.16L221.13 280.29M214.64 268.53L220.21 280.72M213.83 268.89L219.28 281.14M213.02 269.25L218.35 281.55M212.21 269.59L217.41 281.95M211.4 269.93L216.47 282.34M210.58 270.26L215.52 282.72M209.75 270.59L214.58 283.09M208.93 270.9L213.62 283.45M208.1 271.21L212.67 283.8M207.26 271.5L211.71 284.14M206.43 271.79L210.75 284.48M205.59 272.07L209.78 284.8M204.75 272.35L208.81 285.11M203.91 272.61L207.84 285.42M203.06 272.86L206.87 285.71M202.21 273.11L205.89 286M201.36 273.35L204.91 286.27M200.51 273.58L203.93 286.54M199.65 273.8L202.94 286.79M198.79 274.01L201.95 287.04M197.93 274.22L200.96 287.27M197.07 274.41L199.97 287.5M196.21 274.6L198.97 287.71M195.34 274.78L197.98 287.92M194.47 274.95L196.98 288.11M193.61 275.11L195.98 288.3M192.74 275.26L194.97 288.47M191.86 275.4L193.97 288.64M190.99 275.54L192.96 288.79M190.11 275.66L191.96 288.94M189.24 275.78L190.95 289.07M188.36 275.89L189.94 289.2M187.48 275.99L188.92 289.31M186.6 276.08L187.91 289.42M185.72 276.16L186.9 289.51M184.84 276.23L185.88 289.59M183.96 276.3L184.87 289.67M183.08 276.35L183.85 289.73M182.2 276.4L182.83 289.78M181.31 276.44L181.82 289.83M180.43 276.47L180.8 289.86M179.55 276.49L179.78 289.88M178.66 276.5L178.76 289.9M177.78 276.5L177.75 289.9M176.9 276.49L176.73 289.89M176.01 276.48L175.71 289.87M175.13 276.45L174.69 289.85M174.24 276.42L173.67 289.81M173.36 276.38L172.66 289.76M172.48 276.33L171.64 289.7M171.6 276.27L170.63 289.63M170.72 276.2L169.61 289.55M169.84 276.12L168.6 289.46M168.96 276.04L167.58 289.36M168.08 275.94L166.57 289.26M167.2 275.84L165.56 289.14M166.32 275.72L164.55 289.01M165.45 275.6L163.54 288.87M164.57 275.47L162.53 288.72M163.7 275.33L161.53 288.56M162.83 275.19L160.52 288.39M161.96 275.03L159.52 288.21M161.09 274.86L158.52 288.02M160.22 274.69L157.52 287.82M159.36 274.51L156.53 287.61M158.5 274.32L155.53 287.38M157.64 274.12L154.54 287.15M156.78 273.91L153.55 286.91M155.92 273.69L152.57 286.66M155.07 273.47L151.58 286.41M154.21 273.23L150.6 286.14M153.36 272.99L149.62 285.86M152.52 272.74L148.64 285.57M151.67 272.48L147.67 285.27M150.83 272.21L146.7 284.96M149.99 271.93L145.73 284.64M149.15 271.65L144.77 284.31M148.32 271.36L143.81 283.97M147.49 271.05L142.85 283.63M146.66 270.74L141.9 283.27M145.84 270.43L140.95 282.9M144.2 269.77L139.06 282.14M143.38 269.42L138.12 281.75M142.57 269.07L137.19 281.34M141.76 268.71L136.26 280.93M140.16 267.97L134.41 280.07M139.36 267.59L133.49 279.63M137.78 266.8L131.67 278.72M136.22 265.97L129.87 277.78M134.67 265.12L128.08 276.79M133.9 264.68L127.2 276.29M133.14 264.24L126.32 275.77M132.38 263.78L125.45 275.25M131.62 263.32L124.58 274.72M130.87 262.85L123.71 274.18M129.39 261.9L122 273.08M128.65 261.4L121.16 272.51M127.92 260.91L120.32 271.94M127.2 260.4L119.48 271.36M126.48 259.89L118.65 270.76M125.06 258.84L117.01 269.56M124.35 258.31L116.2 268.94M122.96 257.22L114.6 267.69M122.27 256.66L113.8 267.05M121.59 256.1L113.02 266.4M120.91 255.53L112.24 265.75M120.24 254.96L111.47 265.08M119.58 254.37L110.7 264.41M118.92 253.79L109.94 263.74M118.26 253.19L109.19 263.05M116.98 251.98L107.7 261.66M116.34 251.37L106.97 260.95M115.71 250.74L106.25 260.23M114.47 249.48L104.82 258.78M113.26 248.2L103.42 257.3M112.66 247.55L102.74 256.55M112.07 246.89L102.06 255.79M111.49 246.23L101.38 255.03M110.91 245.56L100.72 254.25M110.34 244.88L100.06 253.48M109.78 244.2L99.41 252.69M109.22 243.51L98.77 251.9M108.67 242.82L98.14 251.1M108.13 242.12L97.51 250.3M107.59 241.42L96.89 249.49M107.06 240.71L96.29 248.68M106.54 240L95.68 247.85M106.03 239.28L95.09 247.03M105.52 238.56L94.51 246.19M105.02 237.83L93.93 245.35M104.53 237.09L93.36 244.51M104.04 236.36L92.8 243.66M103.56 235.61L92.25 242.8M103.09 234.86L91.71 241.94M102.63 234.11L91.18 241.07M102.17 233.35L90.66 240.2M101.73 232.59L90.14 239.32M100.85 231.05L89.13 237.55M100.43 230.28L88.65 236.66M100.01 229.5L88.17 235.76M99.6 228.72L87.69 234.86M99.2 227.93L87.23 233.95M98.43 226.34L86.34 232.12M98.05 225.54L85.9 231.2M97.68 224.74L85.48 230.27M97.32 223.93L85.06 229.35M96.96 223.12L84.65 228.41M96.62 222.31L84.26 227.47M96.28 221.49L83.87 226.53M95.63 219.85L83.12 224.64M95.32 219.02L82.76 223.69M95.02 218.19L82.41 222.73M94.72 217.36L82.07 221.77M94.44 216.52L81.74 220.81M94.16 215.68L81.42 219.84M93.89 214.84L81.11 218.87M93.63 214L80.81 217.9M93.37 213.15L80.52 216.92M93.13 212.3L80.23 215.95M92.89 211.45L79.96 214.96M92.66 210.59L79.7 213.98M92.44 209.74L79.45 212.99M92.23 208.88L79.2 212.01M92.03 208.02L78.97 211.01M91.84 207.16L78.75 210.02M91.65 206.29L78.54 209.03M91.48 205.43L78.33 208.03M91.31 204.56L78.14 207.03M91.15 203.69L77.96 206.03M91 202.82L77.79 205.02M90.86 201.94L77.62 204.02M90.73 201.07L77.47 203.01M90.61 200.2L77.33 202M90.49 199.32L77.2 200.99M90.39 198.44L77.07 199.98M90.29 197.56L76.96 198.97M90.2 196.68L76.86 197.96M90.12 195.8L76.77 196.94M90.05 194.92L76.69 195.93M89.99 194.04L76.62 194.91M89.93 193.16L76.55 193.9M89.89 192.28L76.5 192.88M89.85 191.39L76.46 191.86M89.83 190.51L76.43 190.85M89.81 189.63L76.41 189.83M89.8 188.74L76.4 188.81M89.8 187.86L76.4 187.79M89.81 186.97L76.41 186.77M89.83 186.09L76.43 185.75M89.85 185.21L76.46 184.74M89.89 184.32L76.5 183.72M89.93 183.44L76.55 182.7M89.99 182.56L76.62 181.69M90.05 181.68L76.69 180.67M90.12 180.8L76.77 179.66M90.2 179.92L76.86 178.64M90.29 179.04L76.96 177.63M90.39 178.16L77.07 176.62M90.49 177.28L77.2 175.61M90.61 176.4L77.33 174.6M90.73 175.53L77.47 173.59M90.86 174.66L77.62 172.58M91 173.78L77.79 171.58M91.15 172.91L77.96 170.57M91.31 172.04L78.14 169.57M91.48 171.17L78.33 168.57M91.65 170.31L78.54 167.57M91.84 169.44L78.75 166.58M92.03 168.58L78.97 165.59M92.23 167.72L79.2 164.59M92.44 166.86L79.45 163.61M92.66 166.01L79.7 162.62M92.89 165.15L79.96 161.64M93.13 164.3L80.23 160.65M93.37 163.45L80.52 159.68M93.63 162.6L80.81 158.7M93.89 161.76L81.11 157.73M94.16 160.92L81.42 156.76M94.44 160.08L81.74 155.79M94.72 159.24L82.07 154.83M95.02 158.41L82.41 153.87M95.32 157.58L82.76 152.91M95.63 156.75L83.12 151.96M95.95 155.93L83.49 151.01M96.28 155.11L83.87 150.07M96.62 154.29L84.26 149.13M96.96 153.48L84.65 148.19M97.32 152.67L85.06 147.25M97.68 151.86L85.48 146.33M98.05 151.06L85.9 145.4M98.43 150.26L86.34 144.48M98.81 149.46L86.78 143.56M99.2 148.67L87.23 142.65M99.6 147.88L87.69 141.74M100.01 147.1L88.17 140.84M100.43 146.32L88.65 139.94M100.85 145.55L89.13 139.05M101.29 144.78L89.63 138.16M101.73 144.01L90.14 137.28M102.17 143.25L90.66 136.4M102.63 142.49L91.18 135.53M103.09 141.74L91.71 134.66M103.56 140.99L92.25 133.8M104.04 140.24L92.8 132.94M104.53 139.51L93.36 132.09M105.02 138.77L93.93 131.25M105.52 138.04L94.51 130.41M106.03 137.32L95.09 129.57M106.54 136.6L95.68 128.75M107.06 135.89L96.29 127.92M107.59 135.18L96.89 127.11M108.13 134.48L97.51 126.3M108.67 133.78L98.14 125.5M109.22 133.09L98.77 124.7M109.78 132.4L99.41 123.91M110.34 131.72L100.06 123.12M110.91 131.04L100.72 122.35M111.49 130.37L101.38 121.57M112.07 129.71L102.06 120.81M112.66 129.05L102.74 120.05M113.26 128.4L103.42 119.3M113.86 127.76L104.12 118.56M114.47 127.12L104.82 117.82M115.09 126.48L105.53 117.09M115.71 125.86L106.25 116.37M116.34 125.23L106.97 115.65M116.98 124.62L107.7 114.94M117.62 124.01L108.44 114.24M118.26 123.41L109.19 113.55M118.92 122.81L109.94 112.86M119.58 122.23L110.7 112.19M120.24 121.64L111.47 111.52M120.91 121.07L112.24 110.85M121.59 120.5L113.02 110.2M122.27 119.94L113.8 109.55M122.96 119.38L114.6 108.91M123.65 118.83L115.4 108.28M124.35 118.29L116.2 107.66M125.06 117.76L117.01 107.04M125.76 117.23L117.83 106.43M126.48 116.71L118.65 105.84M127.2 116.2L119.48 105.24M127.92 115.69L120.32 104.66M128.65 115.2L121.16 104.09M129.39 114.7L122 103.52M130.13 114.22L122.86 102.97M130.87 113.75L123.71 102.42M131.62 113.28L124.58 101.88M132.38 112.82L125.45 101.35M133.14 112.36L126.32 100.83M133.9 111.92L127.2 100.31M134.67 111.48L128.08 99.81M135.44 111.05L128.97 99.31M136.22 110.63L129.87 98.82M137 110.21L130.77 98.35M137.78 109.8L131.67 97.88M138.57 109.4L132.58 97.42M139.36 109.01L133.49 96.97M140.16 108.63L134.41 96.53M140.96 108.26L135.33 96.09M141.76 107.89L136.26 95.67M142.57 107.53L137.19 95.26M143.38 107.18L138.12 94.85M144.2 106.83L139.06 94.46M145.01 106.5L140 94.07M145.84 106.17L140.95 93.7M146.66 105.86L141.9 93.33M147.49 105.55L142.85 92.97M148.32 105.24L143.81 92.63M149.15 104.95L144.77 92.29M149.99 104.67L145.73 91.96M150.83 104.39L146.7 91.64M151.67 104.12L147.67 91.33M152.52 103.86L148.64 91.03M153.36 103.61L149.62 90.74M154.21 103.37L150.6 90.46M155.07 103.13L151.58 90.19M155.92 102.91L152.57 89.94M156.78 102.69L153.55 89.69M157.64 102.48L154.54 89.45M158.5 102.28L155.53 89.22M159.36 102.09L156.53 88.99M160.22 101.91L157.52 88.78M161.09 101.74L158.52 88.58M161.96 101.57L159.52 88.39M162.83 101.41L160.52 88.21M163.7 101.27L161.53 88.04M164.57 101.13L162.53 87.88M165.45 101L163.54 87.73M166.32 100.88L164.55 87.59M167.2 100.76L165.56 87.46M168.08 100.66L166.57 87.34M168.96 100.56L167.58 87.24M169.84 100.48L168.6 87.14M170.72 100.4L169.61 87.05M171.6 100.33L170.63 86.97M172.48 100.27L171.64 86.9M173.36 100.22L172.66 86.84M174.24 100.18L173.67 86.79M175.13 100.15L174.69 86.75M176.01 100.12L175.71 86.73M176.9 100.11L176.73 86.71M177.78 100.1L177.75 86.7M178.66 100.1L178.76 86.7M179.55 100.11L179.78 86.72M180.43 100.13L180.8 86.74M181.31 100.16L181.82 86.77M182.2 100.2L182.83 86.82M183.08 100.25L183.85 86.87M183.96 100.3L184.87 86.93M184.84 100.37L185.88 87.01M185.72 100.44L186.9 87.09M186.6 100.52L187.91 87.18M187.48 100.61L188.92 87.29M188.36 100.71L189.94 87.4M189.24 100.82L190.95 87.53M190.11 100.94L191.96 87.66M190.99 101.06L192.96 87.81M191.86 101.2L193.97 87.96M192.74 101.34L194.97 88.13M193.61 101.49L195.98 88.3M194.47 101.65L196.98 88.49M195.34 101.82L197.98 88.68M196.21 102L198.97 88.89M197.07 102.19L199.97 89.1M197.93 102.38L200.96 89.33M198.79 102.59L201.95 89.56M199.65 102.8L202.94 89.81M200.51 103.02L203.93 90.06M201.36 103.25L204.91 90.33M202.21 103.49L205.89 90.6M203.06 103.74L206.87 90.89M203.91 103.99L207.84 91.18M204.75 104.25L208.81 91.49M205.59 104.53L209.78 91.8M206.43 104.81L210.75 92.12M207.26 105.1L211.71 92.46M208.1 105.39L212.67 92.8M208.93 105.7L213.62 93.15M209.75 106.01L214.58 93.51M210.58 106.34L215.52 93.88M211.4 106.67L216.47 94.26M212.21 107.01L217.41 94.65M213.02 107.35L218.35 95.05M213.83 107.71L219.28 95.46M214.64 108.07L220.21 95.88M215.44 108.44L221.13 96.31M216.24 108.82L222.05 96.75M217.03 109.21L222.97 97.19M217.83 109.6L223.88 97.65M218.61 110.01L224.78 98.11M219.39 110.42L225.68 98.58M220.17 110.84L226.58 99.07M220.95 111.26L227.47 99.56M221.72 111.7L228.36 100.06M222.48 112.14L229.24 100.57M223.24 112.59L230.12 101.09M224 113.05L230.99 101.61M224.75 113.51L231.85 102.15M225.5 113.98L232.71 102.69M226.24 114.46L233.57 103.24M226.98 114.95L234.42 103.81M227.71 115.44L235.26 104.37M228.44 115.95L236.1 104.95M229.16 116.45L236.93 105.54M230.59 117.49L238.58 106.74M231.3 118.02L239.39 107.35M232 118.56L240.2 107.97M232.7 119.11L241 108.59M233.39 119.66L241.8 109.23M234.07 120.22L242.59 109.87M238.06 123.71L247.19 113.9M239.34 124.93L248.66 115.3M240.6 126.17L250.11 116.73M244.22 130.04L254.28 121.19M246.5 132.74L256.91 124.3M247.06 133.43L257.55 125.1M248.14 134.83L258.8 126.7M248.67 135.53L259.41 127.52M249.2 136.24L260.02 128.33M249.72 136.96L260.61 129.16M250.23 137.68L261.2 129.99M251.23 139.14L262.35 131.67M252.2 140.62L263.47 133.37M252.67 141.36L264.02 134.23M253.14 142.11L264.56 135.09M254.05 143.63L265.6 136.84M254.93 145.16L266.62 138.61M255.78 146.71L267.6 140.39M256.19 147.49L268.07 141.29M256.6 148.28L268.54 142.2M256.99 149.07L269 143.11M257.38 149.86L269.44 144.02M257.76 150.66L269.88 144.94M258.14 151.46L270.31 145.86M258.5 152.26L270.73 146.79M258.86 153.07L271.14 147.72M259.21 153.88L271.55 148.66M259.55 154.7L271.94 149.6M259.88 155.52L272.32 150.54M260.21 156.34L272.7 151.49M260.52 157.17L273.06 152.44M260.83 158L273.41 153.39M261.13 158.83L273.76 154.35M261.42 159.66L274.1 155.31M261.7 160.5L274.42 156.28M261.98 161.34L274.74 157.24M262.24 162.18L275.04 158.21M262.5 163.03L275.34 159.19M262.75 163.88L275.63 160.16M262.99 164.73L275.9 161.14M263.22 165.58L276.17 162.13M263.45 166.43L276.43 163.11M263.66 167.29L276.68 164.1M263.87 168.15L276.91 165.09M264.07 169.01L277.14 166.08M264.25 169.88L277.36 167.08M264.43 170.74L277.57 168.07M264.61 171.61L277.76 169.07M264.77 172.48L277.95 170.07M264.92 173.35L278.13 171.08M265.07 174.22L278.3 172.08M265.21 175.09L278.45 173.09M265.33 175.97L278.6 174.09M265.45 176.84L278.74 175.1M265.56 177.72L278.87 176.11M265.66 178.6L278.98 177.12M265.76 179.48L279.09 178.14M265.84 180.36L279.19 179.15M265.92 181.24L279.27 180.16M265.98 182.12L279.35 181.18M266.04 183L279.42 182.19M266.09 183.88L279.47 183.21M266.13 184.77L279.52 184.23M266.16 185.65L279.55 185.25M266.18 186.53L279.58 186.26M266.2 187.42L279.59 187.28" stroke="#080808" stroke-width="0.6" fill="none"/>
<path d="M207.19 189.17L221.78 189.6M207.1 190.76L221.64 191.99M206.92 192.36L221.37 194.39M206.81 193.06L221.21 195.44M206.72 193.59L221.07 196.24M206.59 194.24L220.88 197.21M206.42 194.98L220.64 198.33M206.27 195.61L220.4 199.27M206.15 196.05L220.23 199.93M205.94 196.8L219.9 201.05M205.63 197.73L219.45 202.45M204.95 199.55L218.42 205.18M204.35 200.88L217.53 207.16M204.05 201.49L217.08 208.09M203.56 202.42L216.34 209.48M203.02 203.36L215.52 210.89M202.55 204.12L214.82 212.02M201.89 205.09L213.84 213.48M200.94 206.37L212.4 215.41M197.29 210.22L206.93 221.18M192.65 213.56L199.97 226.19M167.42 215.52L162.13 229.13M149.76 195.71L135.63 199.42M149.51 194.71L135.27 197.92M149.28 193.57L134.92 196.2M149.05 192.12L134.58 194.03M148.91 190.89L134.37 192.18M148.85 190.04L134.28 190.91M148.82 189.41L134.23 189.96M148.8 188.84L134.21 189.11M148.8 187.95L134.2 187.77M148.87 186.21L134.31 185.17M149.04 184.58L134.56 182.71M149.18 183.63L134.76 181.29M149.31 182.84L134.97 180.11M149.43 182.29L135.14 179.28M149.54 181.78L135.3 178.52M149.63 181.37L135.45 177.9M149.74 180.95L135.61 177.28M149.87 180.47L135.8 176.56M150.26 179.17L136.4 174.6M151.36 176.34L138.04 170.36M151.73 175.54L138.6 169.16M152.22 174.58L139.33 167.73M152.68 173.76L140.02 166.49M156.33 168.73L145.49 158.95M171.36 159.86L168.04 145.65M199.29 168.32L209.94 158.33" stroke="#111" stroke-width="1.1" fill="none"/>
<path d="M221.78 189.6L236.37 190.04M221.64 191.99L236.19 193.22M221.37 194.39L235.83 196.42M221.21 195.44L235.62 197.82M221.07 196.24L235.43 198.89M220.88 197.21L235.18 200.18M220.64 198.33L234.85 201.67M220.4 199.27L234.54 202.93M220.23 199.93L234.3 203.81M219.9 201.05L233.87 205.3M219.45 202.45L233.27 207.17M218.77 204.32L232.36 209.65M218.05 206.03L231.4 211.94M217.53 207.16L230.71 213.45M217.08 208.09L230.1 214.68M216.34 209.48L229.12 216.54M215.52 210.89L228.03 218.42M214.82 212.02L227.09 219.93M214.15 213.03L226.2 221.28M213.52 213.92L225.37 222.46M213.14 214.45L224.85 223.16M212.71 215.02L224.28 223.92M211.65 216.34L222.86 225.69M210.16 218.04L220.88 227.95M206.91 221.2L216.55 232.17M203.41 223.98L211.87 235.87M200.43 225.92L207.91 238.46M199.51 226.45L206.68 239.17M198.71 226.89L205.62 239.76M193.58 229.24L198.77 242.88M186.4 231.29L189.2 245.62M176.06 232.06L175.41 246.64M159.89 228.18L153.85 241.47M147.36 219.6L137.15 230.04M142.61 214.1L130.81 222.71M140.88 211.55L128.51 219.3M139.39 208.98L126.52 215.87M138.52 207.27L125.36 213.59M137.4 204.74L123.87 210.22M136.66 202.78L122.88 207.6M135.63 199.42L121.51 203.12M135.27 197.92L121.03 201.12M134.92 196.2L120.56 198.83M134.58 194.03L120.1 195.94M134.43 192.75L119.9 194.24M134.32 191.61L119.77 192.71M134.28 190.91L119.7 191.78M134.23 189.96L119.64 190.51M134.21 189.11L119.61 189.37M134.2 188.15L119.6 188.1M134.21 187.38L119.61 187.08M134.31 185.17L119.75 184.12M134.56 182.71L120.08 180.85M134.76 181.29L120.35 178.95M134.97 180.11L120.63 177.38M135.14 179.28L120.85 176.28M135.3 178.52L121.07 175.27M135.45 177.9L121.27 174.43M135.61 177.28L121.48 173.61M135.8 176.56L121.74 172.65M136.01 175.85L122.01 171.7M136.82 173.37L123.1 168.39M138.04 170.36L124.72 164.38M138.6 169.16L125.47 162.79M139.33 167.73L126.44 160.87M140.02 166.49L127.35 159.22M141.15 164.63L128.86 156.74M141.86 163.56L129.81 155.31M150.7 154.05L141.59 142.64M163.45 146.99L158.6 133.22M167.23 145.85L163.64 131.69M172.76 144.81L171.01 130.32M181.43 144.63L182.57 130.08M187.35 145.51L190.46 131.25M191.94 146.78L196.59 132.94M195.73 148.25L201.65 134.9M199.6 150.2L206.8 137.49M207.47 155.9L217.3 145.1M217.64 169.67L230.85 163.46M221.14 180.74L235.52 178.21M221.49 183.11L235.99 181.38M221.74 186L236.32 185.24M221.8 187.65L236.39 187.43" stroke="#111" stroke-width="1.0" fill="none"/>
<path d="M236.39 189.32L250.99 189.57M236.35 190.75L250.94 191.36M236.19 193.22L250.74 194.45M235.83 196.42L250.29 198.45M235.62 197.82L250.02 200.2M235.43 198.89L249.79 201.53M235.18 200.18L249.47 203.15M234.85 201.67L249.06 205.01M234.54 202.93L248.67 206.59M234.3 203.81L248.38 207.68M233.87 205.3L247.84 209.55M233.27 207.17L247.08 211.89M232.36 209.65L245.94 214.99M231.4 211.94L244.75 217.85M230.71 213.45L243.88 219.74M230.1 214.68L243.13 221.28M229.12 216.54L241.89 223.61M228.03 218.42L240.54 225.95M227.09 219.93L239.37 227.84M226.2 221.28L238.25 229.52M225.37 222.46L237.21 231M224.85 223.16L236.56 231.88M224.28 223.92L235.84 232.83M223.52 224.88L234.9 234.03M222.84 225.72L234.05 235.07M222.18 226.49L233.23 236.04M221.41 227.36L232.27 237.13M220.33 228.53L230.91 238.59M218.29 230.58L228.36 241.14M216.62 232.1L226.28 243.05M215.77 232.84L225.21 243.98M214.75 233.69L223.93 245.04M213.77 234.46L222.71 246.01M212.97 235.07L221.72 246.76M211.85 235.89L220.32 247.78M209.92 237.2L217.9 249.43M207.91 238.46L215.38 251M206.68 239.17L213.85 251.89M205.62 239.76L212.52 252.62M204.5 240.34L211.12 253.35M202.63 241.25L208.79 254.49M199.66 242.53L205.08 256.09M198.03 243.16L203.04 256.87M197 243.52L201.75 257.33M195.11 244.14L199.38 258.1M192.81 244.79L196.51 258.92M189.2 245.62L192 259.94M184.95 246.29L186.68 260.78M179.35 246.68L179.69 261.28M173.86 246.55L172.82 261.12M168.53 245.93L166.16 260.33M165.94 245.44L162.92 259.73M164.45 245.11L161.06 259.31M161.95 244.45L157.93 258.49M158.33 243.29L153.41 257.03M155.69 242.27L150.11 255.76M153.36 241.25L147.2 254.48M152.02 240.6L145.52 253.68M150.57 239.86L143.72 252.75M148.34 238.61L140.93 251.18M146.1 237.22L138.13 249.45M144.14 235.88L135.68 247.78M142.55 234.71L133.69 246.31M140.31 232.91L130.89 244.06M137.89 230.75L127.87 241.36M135.84 228.71L125.3 238.82M134.43 227.19L123.54 236.91M133.47 226.08L122.34 235.53M132.37 224.74L120.96 233.85M131.22 223.26L119.52 232M130.41 222.15L118.51 230.61M129.32 220.57L117.16 228.64M127.72 218.01L115.15 225.43M126.52 215.87L113.65 222.77M125.36 213.59L112.2 219.91M123.87 210.22L110.34 215.7M123.33 208.84L109.67 213.98M122.46 206.35L108.57 210.86M121.51 203.12L107.39 206.83M121.03 201.12L106.78 204.33M120.56 198.83L106.2 201.47M120.1 195.94L105.63 197.86M119.9 194.24L105.38 195.72M119.77 192.71L105.21 193.81M119.7 191.78L105.13 192.65M119.64 190.51L105.05 191.06M119.61 189.37L105.01 189.64M119.6 188.1L105 188.05M119.61 187.08L105.02 186.77M119.75 184.12L105.19 183.08M120.08 180.85L105.6 178.99M120.35 178.95L105.94 176.61M120.63 177.38L106.29 174.66M120.85 176.28L106.56 173.27M121.07 175.27L106.84 172.01M121.27 174.43L107.09 170.97M121.48 173.61L107.35 169.93M121.74 172.65L107.67 168.73M122.01 171.7L108.01 167.55M123.1 168.39L109.37 163.41M124.72 164.38L111.4 158.41M125.47 162.79L112.34 156.41M126.44 160.87L113.56 154.01M126.9 160.03L114.12 152.96M127.82 158.42L115.28 150.95M128.86 156.74L116.58 148.85M129.81 155.31L117.76 147.07M131.16 153.42L119.45 144.7M132.59 151.58L121.23 142.4M134.25 149.61L123.31 139.94M137 146.71L126.75 136.32M140.07 143.89L130.59 132.79M141.83 142.45L132.79 130.98M143.37 141.28L134.71 129.52M145.43 139.83L137.28 127.71M147.85 138.28L140.32 125.78M148.64 137.81L141.31 125.19M150.38 136.84L143.48 123.98M154.43 134.87L148.54 121.51M158.6 133.22L153.74 119.45M160.94 132.45L156.67 118.48M163.36 131.77L159.7 117.63M164.92 131.38L161.65 117.15M166.37 131.07L163.46 116.76M167.81 130.8L165.27 116.42M169.45 130.53L167.31 116.09M171 130.32L169.25 115.83M174.23 130.02L173.29 115.45M177.74 129.9L177.68 115.3M180.3 129.95L180.88 115.36M181.42 130L182.27 115.43M182.55 130.08L183.69 115.52M184.1 130.22L185.63 115.7M185.6 130.4L187.5 115.92M186.53 130.53L188.66 116.08M187.36 130.66L189.7 116.24M190.46 131.25L193.58 116.98M192.95 131.85L196.69 117.73M195.63 132.63L200.04 118.71M198.7 133.69L203.88 120.04M200.15 134.26L205.68 120.75M201.06 134.65L206.83 121.23M202.22 135.16L208.28 121.88M204.04 136.03L210.55 122.96M206.58 137.37L213.72 124.64M209.47 139.11L217.34 126.81M214.02 142.33L223.02 130.84M220.36 148.1L230.95 138.05M225.29 154.03L237.11 145.47M228.63 159.19L241.28 151.91M229.37 160.52L242.21 153.57M229.99 161.7L242.99 155.05M232.24 166.66L245.8 161.25M234.56 173.76L248.7 170.13M235.52 178.21L249.9 175.69M235.99 181.38L250.49 179.65M236.32 185.24L250.9 184.47M236.39 187.43L250.99 187.21" stroke="#111" stroke-width="0.75" fill="none"/>
<path d="M251 188.94L265.6 189.06M250.97 190.21L265.57 190.59M250.94 191.36L265.52 191.98M250.86 192.86L265.43 193.78M250.78 193.96L265.34 195.09M250.59 196.02L265.11 197.57M250.29 198.45L264.75 200.48M250.02 200.2L264.43 202.58M249.79 201.53L264.15 204.18M249.47 203.15L263.77 206.12M249.06 205.01L263.27 208.35M248.67 206.59L262.81 210.24M248.38 207.68L262.46 211.56M248.05 208.84L262.06 212.95M247.62 210.26L261.54 214.65M247.08 211.89L260.9 216.6M246.37 213.88L260.05 218.99M245.5 216.1L259 221.66M245.08 217.1L258.5 222.86M244.41 218.6L257.7 224.67M243.88 219.74L257.06 226.03M243.13 221.28L256.15 227.87M241.89 223.61L254.67 230.67M240.54 225.95L253.05 233.48M239.37 227.84L251.64 235.75M238.25 229.52L250.3 237.77M237.21 231L249.05 239.54M236.56 231.88L248.28 240.6M235.84 232.83L247.41 241.74M234.9 234.03L246.28 243.17M234.05 235.07L245.26 244.42M233.23 236.04L244.28 245.58M232.27 237.13L243.12 246.89M230.91 238.59L241.5 248.65M229.35 240.19L239.62 250.56M228.25 241.25L238.3 251.84M227.36 242.09L237.23 252.84M226.28 243.05L235.94 254.01M225.21 243.98L234.65 255.12M223.93 245.04L233.12 256.39M222.71 246.01L231.65 257.55M221.72 246.76L230.46 258.45M220.32 247.78L228.78 259.68M217.9 249.43L225.88 261.65M215.38 251L222.86 263.54M213.85 251.89L221.02 264.61M212.52 252.62L219.43 265.48M211.12 253.35L217.75 266.36M208.79 254.49L214.95 267.73M205.75 255.82L211.31 269.32M204.4 256.36L209.68 269.97M203.04 256.87L208.04 270.59M201.75 257.33L206.5 271.13M199.38 258.1L203.66 272.06M197.24 258.72L201.08 272.8M195.78 259.1L199.33 273.26M193.97 259.53L197.16 273.78M191.75 259.99L194.49 274.33M190.03 260.3L192.44 274.7M188.43 260.55L190.51 275M184.93 260.97L186.32 275.5M180.8 261.25L181.36 275.84M178.57 261.3L178.68 275.9M175.78 261.27L175.34 275.86M171.66 261.02L170.39 275.57M169.88 260.85L168.25 275.36M167.78 260.58L165.74 275.04M166.14 260.33L163.77 274.74M164.54 260.05L161.85 274.4M162.92 259.73L159.91 274.01M161.71 259.46L158.45 273.69M160.41 259.15L156.89 273.32M159.15 258.82L155.38 272.93M156.72 258.13L152.47 272.1M154.25 257.33L149.5 271.14M152.56 256.73L147.48 270.41M150.11 255.76L144.53 269.26M147.68 254.7L141.61 267.99M146.73 254.26L140.47 267.45M145.52 253.68L139.02 266.75M143.72 252.75L136.86 265.64M140.93 251.18L133.51 263.76M138.13 249.45L130.15 261.68M135.68 247.78L127.21 259.68M133.69 246.31L124.82 257.91M131.76 244.79L122.51 256.09M130.03 243.33L120.44 254.33M128.55 242L118.66 252.74M127.19 240.72L117.03 251.2M125.89 239.42L115.47 249.65M124.72 238.2L114.07 248.18M123.54 236.91L112.64 246.63M122.34 235.53L111.2 244.97M120.96 233.85L109.55 242.97M119.92 232.52L108.3 241.36M119.14 231.48L107.36 240.11M118.51 230.61L106.62 239.07M117.57 229.25L105.48 237.44M116.75 228.02L104.5 235.96M115.81 226.53L103.37 234.17M114.51 224.33L101.81 231.53M113.65 222.77L100.78 229.66M112.89 221.31L99.87 227.91M111.54 218.5L98.25 224.54M110.55 216.22L97.06 221.8M110.13 215.18L96.55 220.55M109.67 213.98L96 219.11M108.97 212.05L95.17 216.8M108.2 209.67L94.24 213.94M107.39 206.83L93.27 210.54M106.94 205.03L92.73 208.37M106.63 203.63L92.35 206.7M106.41 202.59L92.09 205.45M106 200.34L91.6 202.75M105.63 197.86L91.15 199.77M105.44 196.33L90.93 197.94M105.32 195.11L90.78 196.47M105.21 193.81L90.65 194.91M105.13 192.65L90.56 193.52M105.05 191.06L90.46 191.62M105.01 189.64L90.41 189.91M105 188.05L90.4 188M105.02 186.77L90.42 186.47M105.19 183.08L90.62 182.03M105.6 178.99L91.12 177.13M105.82 177.39L91.38 175.2M106.07 175.84L91.68 173.35M106.29 174.66L91.94 171.93M106.56 173.27L92.28 170.27M106.84 172.01L92.61 168.75M107.09 170.97L92.9 167.5M107.35 169.93L93.22 166.26M107.67 168.73L93.61 164.82M108.01 167.55L94.01 163.4M109.37 163.41L95.65 158.44M111.4 158.41L98.08 152.43M112.34 156.41L99.2 150.03M113.56 154.01L100.67 147.15M114.12 152.96L101.35 145.9M115.28 150.95L102.73 143.48M116.58 148.85L104.3 140.96M117.34 147.69L105.21 139.57M118.19 146.45L106.23 138.08M119.45 144.7L107.74 135.98M121.23 142.4L109.88 133.22M123.31 139.94L112.38 130.27M124.77 138.34L114.13 128.35M126.88 136.19L116.65 125.77M128.8 134.37L118.96 123.58M130.59 132.79L121.11 121.69M132.79 130.98L123.75 119.52M134.71 129.52L126.05 117.77M137.28 127.71L129.14 115.59M140.32 125.78L132.78 113.27M141.31 125.19L133.97 112.57M143.48 123.98L136.58 111.11M147.11 122.16L140.93 108.93M149.98 120.89L144.37 107.41M153.74 119.45L148.89 105.68M156.03 118.69L151.63 104.76M157.32 118.29L153.18 104.29M159.7 117.63L156.04 103.5M161.65 117.15L158.38 102.93M163.46 116.76L160.55 102.46M165.27 116.42L162.72 102.04M166.7 116.18L164.44 101.76M167.92 116L165.9 101.54M169.25 115.83L167.5 101.33M171.86 115.56L170.64 101.01M174.71 115.37L174.06 100.79M177.68 115.3L177.62 100.7M180.88 115.36L181.45 100.77M182.27 115.43L183.13 100.85M183.69 115.52L184.83 100.97M185.1 115.65L186.52 101.12M186.15 115.76L187.78 101.25M187.5 115.92L189.4 101.44M188.66 116.08L190.8 101.64M189.7 116.24L192.04 101.83M191.86 116.63L194.63 102.29M193.78 117.03L196.94 102.77M195.29 117.38L198.75 103.19M196.69 117.73L200.42 103.62M197.92 118.07L201.9 104.02M199.95 118.68L204.34 104.76M202.15 119.41L206.98 105.63M203.2 119.79L208.25 106.09M204.55 120.3L209.86 106.7M205.68 120.75L211.22 107.24M206.83 121.23L212.59 107.82M208.28 121.88L214.34 108.59M210.55 122.96L217.06 109.89M213.72 124.64L220.87 111.91M216.14 126.05L223.76 113.6M218.53 127.59L226.64 115.44M220.93 129.26L229.52 117.45M223.14 130.93L232.17 119.46M225.06 132.49L234.47 121.33M226.89 134.09L236.67 123.25M229.32 136.39L239.59 126M231.79 138.94L242.54 129.07M233.46 140.83L244.55 131.34M234.69 142.31L246.03 133.11M235.38 143.17L246.85 134.14M236.45 144.57L248.14 135.82M238.75 147.83L250.9 139.73M240.9 151.26L253.49 143.85M241.66 152.57L254.39 145.42M242.21 153.57L255.05 146.63M242.99 155.05L255.98 148.39M244.01 157.13L257.21 150.9M245.23 159.85L258.67 154.16M246.31 162.56L259.97 157.41M247.34 165.46L261.2 160.9M248.29 168.6L262.35 164.66M249.08 171.66L263.29 168.34M249.9 175.69L264.28 173.17M250.36 178.64L264.83 176.71M250.6 180.65L265.12 179.12M250.9 184.47L265.48 183.71M250.99 187.21L265.59 186.99" stroke="#111" stroke-width="0.7" fill="none"/>
<path d="M265.6 189.06L280.2 189.19M265.57 190.59L280.16 190.98M265.52 191.98L280.11 192.59M265.43 193.78L280 194.69M265.34 195.09L279.89 196.22M265.19 196.79L279.72 198.21M265.02 198.35L279.53 200.02M264.75 200.48L279.21 202.51M264.43 202.58L278.83 204.96M264.15 204.18L278.51 206.83M263.77 206.12L278.06 209.09M263.27 208.35L277.49 211.69M262.81 210.24L276.94 213.9M262.46 211.56L276.53 215.44M262.06 212.95L276.07 217.06M261.54 214.65L275.47 219.05M260.9 216.6L274.72 221.32M260.05 218.99L273.72 224.11M259 221.66L272.5 227.22M258.5 222.86L271.91 228.62M257.7 224.67L270.98 230.73M257.06 226.03L270.24 232.31M256.46 227.26L269.53 233.76M255.84 228.47L268.82 235.17M255.14 229.82L267.99 236.73M254.2 231.51L266.9 238.72M253.05 233.48L265.56 241.01M251.64 235.75L263.91 243.65M250.78 237.06L262.91 245.18M249.81 238.47L261.78 246.84M249.05 239.54L260.89 248.08M248.28 240.6L259.99 249.31M247.41 241.74L258.98 250.64M246.28 243.17L257.66 252.32M245.26 244.42L256.47 253.78M244.28 245.58L255.32 255.13M243.12 246.89L253.97 256.66M242.01 248.1L252.68 258.07M240.97 249.19L251.47 259.34M239.62 250.56L249.89 260.94M238.3 251.84L248.35 262.44M237.23 252.84L247.1 263.6M235.94 254.01L245.59 264.96M234.65 255.12L244.09 266.25M233.12 256.39L242.31 267.73M231.65 257.55L240.6 269.09M230.46 258.45L239.21 270.15M228.78 259.68L237.25 271.58M227.01 260.91L235.17 273.01M224.75 262.38L232.54 274.73M223.57 263.11L231.17 275.58M222.14 263.97L229.5 276.58M221.02 264.61L228.19 277.33M219.43 265.48L226.33 278.35M217.75 266.36L224.37 279.37M216.19 267.14L222.56 280.28M213.7 268.3L219.64 281.63M211.31 269.32L216.86 282.83M209.68 269.97L214.95 283.58M208.04 270.59L213.05 284.3M206.5 271.13L211.25 284.94M204.64 271.75L209.08 285.66M202.68 272.35L206.79 286.36M201.08 272.8L204.93 286.89M199.33 273.26L202.89 287.42M198.06 273.57L201.4 287.78M196.26 273.98L199.3 288.26M194.49 274.33L197.24 288.67M192.44 274.7L194.84 289.1M190.51 275L192.6 289.45M188.25 275.3L189.96 289.8M185.65 275.57L186.93 290.11M184.38 275.67L185.44 290.23M182.74 275.77L183.53 290.35M181.34 275.84L181.9 290.43M179.99 275.88L180.32 290.47M178.68 275.9L178.8 290.5M176.78 275.89L176.58 290.49M173.89 275.8L173.21 290.39M170.39 275.57L169.12 290.11M168.25 275.36L166.63 289.87M165.74 275.04L163.7 289.49M163.77 274.74L161.39 289.14M161.85 274.4L159.16 288.75M159.91 274.01L156.89 288.3M158.45 273.69L155.19 287.92M156.89 273.32L153.37 287.49M155.38 272.93L151.61 287.03M153.46 272.39L149.37 286.41M151.49 271.79L147.07 285.71M150.17 271.36L145.53 285.21M148.84 270.9L143.98 284.67M147.48 270.41L142.39 284.1M146.12 269.89L140.81 283.49M144.58 269.27L139 282.77M142.96 268.59L137.12 281.97M141.61 267.99L135.55 281.27M140.47 267.45L134.22 280.65M139.02 266.75L132.53 279.83M137.63 266.04L130.9 279M136.1 265.23L129.11 278.05M133.51 263.76L126.1 276.34M131.28 262.4L123.5 274.75M129.03 260.94L120.87 273.04M127.21 259.68L118.75 271.57M125.59 258.49L116.85 270.19M124.07 257.33L115.08 268.84M122.51 256.09L113.27 267.39M120.44 254.33L110.84 265.34M118.66 252.74L108.77 263.48M117.68 251.82L107.63 262.41M116.39 250.58L106.13 260.96M115.47 249.65L105.05 259.87M114.56 248.71L103.98 258.77M113.58 247.66L102.84 257.55M112.64 246.63L101.75 256.35M111.63 245.47L100.56 255M110.78 244.48L99.58 253.84M109.55 242.97L98.14 252.08M108.3 241.36L96.68 250.21M107.36 240.11L95.59 248.75M106.62 239.07L94.72 247.54M105.48 237.44L93.39 245.63M104.5 235.96L92.25 243.91M103.76 234.8L91.38 242.55M102.99 233.55L90.49 241.09M102.2 232.21L89.57 239.53M101.43 230.85L88.67 237.95M100.78 229.66L87.91 236.55M99.87 227.91L86.85 234.52M98.95 226.04L85.77 232.33M98.25 224.54L84.96 230.58M97.58 223.02L84.17 228.81M97.06 221.8L83.57 227.38M96.55 220.55L82.98 225.93M96 219.11L82.33 224.25M95.49 217.72L81.74 222.63M94.85 215.88L81 220.47M94.43 214.55L80.5 218.93M94.05 213.33L80.06 217.5M93.49 211.36L79.4 215.2M93.06 209.71L78.9 213.28M92.73 208.37L78.52 211.72M92.35 206.7L78.08 209.77M92.09 205.45L77.78 208.31M91.6 202.75L77.2 205.16M91.15 199.77L76.68 201.68M90.93 197.94L76.42 199.55M90.78 196.47L76.25 197.83M90.65 194.91L76.09 196.01M90.56 193.52L75.98 194.39M90.46 191.62L75.87 192.17M90.41 189.91L75.82 190.18M90.4 188L75.8 187.95M90.42 186.47L75.82 186.16M90.46 185.02L75.87 184.48M90.56 183.09L75.98 182.22M90.7 181.01L76.15 179.8M90.89 179.05L76.37 177.51M91.12 177.13L76.63 175.27M91.38 175.2L76.95 173.02M91.68 173.35L77.3 170.86M91.94 171.93L77.6 169.2M92.28 170.27L77.99 167.26M92.61 168.75L78.38 165.49M92.9 167.5L78.72 164.04M93.22 166.26L79.09 162.59M93.61 164.82L79.54 160.91M94.01 163.4L80.01 159.25M94.87 160.67L81.02 156.06M96.48 156.23L82.9 150.88M98.08 152.43L84.76 146.45M98.74 151.01L85.52 144.79M99.68 149.06L86.63 142.52M100.67 147.15L87.78 140.29M101.35 145.9L88.57 138.83M102.73 143.48L90.19 136.01M104.3 140.96L92.01 133.06M105.21 139.57L93.07 131.45M106.23 138.08L94.26 129.71M107.74 135.98L96.03 127.26M109.25 134.01L97.79 124.97M110.52 132.44L99.27 123.13M112.38 130.27L101.44 120.6M114.13 128.35L103.48 118.36M115.77 126.65L105.4 116.37M117.55 124.9L107.48 114.33M118.96 123.58L109.12 112.8M120.51 122.21L110.93 111.19M121.72 121.17L112.34 109.99M122.95 120.16L113.77 108.8M124.56 118.89L115.65 107.32M126.05 117.77L117.39 106.01M127.18 116.95L118.71 105.05M128.3 116.16L120.01 104.14M129.44 115.39L121.35 103.24M131.13 114.29L123.32 101.96M132.78 113.27L125.24 100.77M133.97 112.57L126.63 99.95M136.58 111.11L129.67 98.25M139.8 109.47L133.44 96.33M142.06 108.41L136.07 95.1M143.31 107.86L137.53 94.45M145.44 106.98L140.02 93.42M148.09 105.96L143.11 92.24M149.7 105.4L144.98 91.58M151.63 104.76L147.24 90.84M153.18 104.29L149.05 90.29M155.1 103.75L151.28 89.66M156.98 103.26L153.48 89.08M158.38 102.93L155.11 88.7M160.55 102.46L157.64 88.15M162.72 102.04L160.17 87.67M164.44 101.76L162.19 87.33M165.9 101.54L163.89 87.08M167.5 101.33L165.75 86.84M170.64 101.01L169.41 86.46M174.06 100.79L173.4 86.2M177.62 100.7L177.55 86.1M181.45 100.77L182.03 86.18M183.13 100.85L183.98 86.28M184.83 100.97L185.97 86.41M186.52 101.12L187.94 86.58M187.78 101.25L189.42 86.74M189.4 101.44L191.3 86.97M190.8 101.64L192.93 87.2M192.04 101.83L194.38 87.42M194.63 102.29L197.4 87.96M196.94 102.77L200.09 88.52M198.75 103.19L202.21 89.01M200.42 103.62L204.16 89.5M201.9 104.02L205.88 89.98M204.34 104.76L208.74 90.83M206.98 105.63L211.81 91.85M208.25 106.09L213.29 92.39M209.86 106.7L215.17 93.1M211.22 107.24L216.76 93.73M212.59 107.82L218.36 94.41M214.34 108.59L220.39 95.31M215.86 109.3L222.17 96.14M218.26 110.5L224.96 97.53M220.87 111.91L228.01 99.17M223.76 113.6L231.39 101.15M226.64 115.44L234.74 103.3M228.16 116.48L236.51 104.51M229.49 117.43L238.07 105.62M230.86 118.44L239.67 106.8M232.17 119.46L241.2 107.98M233.76 120.74L243.06 109.48M235.17 121.93L244.7 110.87M236.67 123.25L246.44 112.4M238.7 125.14L248.82 114.62M240.46 126.88L250.87 116.64M241.88 128.35L252.52 118.36M243.2 129.8L254.07 120.05M244.11 130.83L255.13 121.25M244.99 131.86L256.16 122.45M246.03 133.11L257.37 123.92M246.85 134.14L258.33 125.12M248.14 135.82L259.83 127.08M249.6 137.83L261.53 129.42M250.69 139.41L262.8 131.26M252.16 141.67L264.52 133.9M253.49 143.85L266.07 136.44M254.39 145.42L267.12 138.27M255.05 146.63L267.89 139.68M255.98 148.39L268.98 141.74M257.21 150.9L270.42 144.66M258.67 154.16L272.12 148.47M259.6 156.44L273.2 151.13M260.34 158.39L274.06 153.41M261.2 160.9L275.07 156.33M261.9 163.1L275.88 158.91M262.37 164.73L276.43 160.8M262.77 166.22L276.9 162.53M263.29 168.34L277.51 165.01M263.85 170.9L278.16 168M264.25 173L278.63 170.45M264.65 175.45L279.09 173.31M264.83 176.71L279.3 174.78M265.02 178.24L279.52 176.56M265.21 180.01L279.74 178.62M265.4 182.34L279.96 181.35M265.54 185.08L280.13 184.54M265.59 186.99L280.19 186.77" stroke="#111" stroke-width="0.65" fill="none"/>
<path d="M218.77 204.32A43.8 43.8 0 0 1 218.05 206.03M214.15 213.03A43.8 43.8 0 0 1 213.52 213.92M213.14 214.45A43.8 43.8 0 0 1 211.65 216.34M210.16 218.04A43.8 43.8 0 0 1 203.41 223.98M200.43 225.92A43.8 43.8 0 0 1 199.51 226.45M198.71 226.89A43.8 43.8 0 0 1 136.66 202.78M134.43 192.75A43.8 43.8 0 0 1 134.32 191.61M134.2 188.15A43.8 43.8 0 0 1 134.21 187.38M136.01 175.85A43.8 43.8 0 0 1 136.82 173.37M141.15 164.63A43.8 43.8 0 0 1 150.7 154.05M163.45 146.99A43.8 43.8 0 0 1 172.76 144.81M181.43 144.63A43.8 43.8 0 0 1 221.8 187.65" stroke="#111" stroke-width="1.0" fill="none"/>
<path d="M236.39 189.32A58.4 58.4 0 0 1 236.35 190.75M223.52 224.88A58.4 58.4 0 0 1 222.18 226.49M221.41 227.36A58.4 58.4 0 0 1 220.33 228.53M218.29 230.58A58.4 58.4 0 0 1 214.75 233.69M213.77 234.46A58.4 58.4 0 0 1 209.92 237.2M204.5 240.34A58.4 58.4 0 0 1 192.81 244.79M184.95 246.29A58.4 58.4 0 0 1 165.94 245.44M164.45 245.11A58.4 58.4 0 0 1 144.14 235.88M142.55 234.71A58.4 58.4 0 0 1 132.37 224.74M131.22 223.26A58.4 58.4 0 0 1 130.41 222.15M129.32 220.57A58.4 58.4 0 0 1 127.72 218.01M123.33 208.84A58.4 58.4 0 0 1 122.46 206.35M126.9 160.03A58.4 58.4 0 0 1 127.82 158.42M131.16 153.42A58.4 58.4 0 0 1 154.43 134.87M160.94 132.45A58.4 58.4 0 0 1 166.37 131.07M167.81 130.8A58.4 58.4 0 0 1 174.23 130.02M177.74 129.9A58.4 58.4 0 0 1 187.36 130.66M192.95 131.85A58.4 58.4 0 0 1 200.15 134.26M201.06 134.65A58.4 58.4 0 0 1 202.22 135.16M204.04 136.03A58.4 58.4 0 0 1 209.47 139.11M214.02 142.33A58.4 58.4 0 0 1 220.36 148.1M225.29 154.03A58.4 58.4 0 0 1 234.56 173.76" stroke="#111" stroke-width="0.8" fill="none"/>
<path d="M251 188.94A73 73 0 0 1 250.97 190.21M250.86 192.86A73 73 0 0 1 250.59 196.02M248.05 208.84A73 73 0 0 1 247.62 210.26M246.37 213.88A73 73 0 0 1 245.5 216.1M245.08 217.1A73 73 0 0 1 244.41 218.6M229.35 240.19A73 73 0 0 1 227.36 242.09M205.75 255.82A73 73 0 0 1 204.4 256.36M197.24 258.72A73 73 0 0 1 195.78 259.1M193.97 259.53A73 73 0 0 1 190.03 260.3M188.43 260.55A73 73 0 0 1 184.93 260.97M180.8 261.25A73 73 0 0 1 178.57 261.3M175.78 261.27A73 73 0 0 1 169.88 260.85M167.78 260.58A73 73 0 0 1 164.54 260.05M161.71 259.46A73 73 0 0 1 160.41 259.15M159.15 258.82A73 73 0 0 1 156.72 258.13M154.25 257.33A73 73 0 0 1 152.56 256.73M147.68 254.7A73 73 0 0 1 146.73 254.26M131.76 244.79A73 73 0 0 1 130.03 243.33M128.55 242A73 73 0 0 1 127.19 240.72M125.89 239.42A73 73 0 0 1 124.72 238.2M119.92 232.52A73 73 0 0 1 119.14 231.48M117.57 229.25A73 73 0 0 1 116.75 228.02M115.81 226.53A73 73 0 0 1 114.51 224.33M112.89 221.31A73 73 0 0 1 111.54 218.5M110.55 216.22A73 73 0 0 1 110.13 215.18M108.97 212.05A73 73 0 0 1 108.2 209.67M106.94 205.03A73 73 0 0 1 106.63 203.63M106.41 202.59A73 73 0 0 1 106 200.34M105.44 196.33A73 73 0 0 1 105.32 195.11M105.82 177.39A73 73 0 0 1 106.07 175.84M117.34 147.69A73 73 0 0 1 118.19 146.45M124.77 138.34A73 73 0 0 1 128.8 134.37M147.11 122.16A73 73 0 0 1 149.98 120.89M156.03 118.69A73 73 0 0 1 157.32 118.29M166.7 116.18A73 73 0 0 1 167.92 116M171.86 115.56A73 73 0 0 1 174.71 115.37M185.1 115.65A73 73 0 0 1 186.15 115.76M191.86 116.63A73 73 0 0 1 195.29 117.38M197.92 118.07A73 73 0 0 1 202.15 119.41M203.2 119.79A73 73 0 0 1 204.55 120.3M216.14 126.05A73 73 0 0 1 218.53 127.59M220.93 129.26A73 73 0 0 1 225.06 132.49M226.89 134.09A73 73 0 0 1 234.69 142.31M235.38 143.17A73 73 0 0 1 238.75 147.83M240.9 151.26A73 73 0 0 1 241.66 152.57M244.01 157.13A73 73 0 0 1 247.34 165.46M248.29 168.6A73 73 0 0 1 249.08 171.66M250.36 178.64A73 73 0 0 1 250.6 180.65" stroke="#111" stroke-width="0.7" fill="none"/>
<path d="M265.19 196.79A87.6 87.6 0 0 1 265.02 198.35M256.46 227.26A87.6 87.6 0 0 1 255.84 228.47M255.14 229.82A87.6 87.6 0 0 1 254.2 231.51M250.78 237.06A87.6 87.6 0 0 1 249.81 238.47M242.01 248.1A87.6 87.6 0 0 1 240.97 249.19M227.01 260.91A87.6 87.6 0 0 1 224.75 262.38M223.57 263.11A87.6 87.6 0 0 1 222.14 263.97M216.19 267.14A87.6 87.6 0 0 1 213.7 268.3M204.64 271.75A87.6 87.6 0 0 1 202.68 272.35M198.06 273.57A87.6 87.6 0 0 1 196.26 273.98M188.25 275.3A87.6 87.6 0 0 1 184.38 275.67M182.74 275.77A87.6 87.6 0 0 1 179.99 275.88M176.78 275.89A87.6 87.6 0 0 1 173.89 275.8M153.46 272.39A87.6 87.6 0 0 1 151.49 271.79M150.17 271.36A87.6 87.6 0 0 1 148.84 270.9M146.12 269.89A87.6 87.6 0 0 1 142.96 268.59M137.63 266.04A87.6 87.6 0 0 1 136.1 265.23M131.28 262.4A87.6 87.6 0 0 1 129.03 260.94M125.59 258.49A87.6 87.6 0 0 1 124.07 257.33M117.68 251.82A87.6 87.6 0 0 1 116.39 250.58M114.56 248.71A87.6 87.6 0 0 1 113.58 247.66M111.63 245.47A87.6 87.6 0 0 1 110.78 244.48M103.76 234.8A87.6 87.6 0 0 1 102.99 233.55M102.2 232.21A87.6 87.6 0 0 1 101.43 230.85M98.95 226.04A87.6 87.6 0 0 1 97.58 223.02M95.49 217.72A87.6 87.6 0 0 1 94.85 215.88M94.43 214.55A87.6 87.6 0 0 1 94.05 213.33M93.49 211.36A87.6 87.6 0 0 1 93.06 209.71M90.46 185.02A87.6 87.6 0 0 1 90.89 179.05M94.87 160.67A87.6 87.6 0 0 1 96.48 156.23M98.74 151.01A87.6 87.6 0 0 1 99.68 149.06M109.25 134.01A87.6 87.6 0 0 1 110.52 132.44M115.77 126.65A87.6 87.6 0 0 1 117.55 124.9M120.51 122.21A87.6 87.6 0 0 1 121.72 121.17M122.95 120.16A87.6 87.6 0 0 1 124.56 118.89M127.18 116.95A87.6 87.6 0 0 1 131.13 114.29M139.8 109.47A87.6 87.6 0 0 1 142.06 108.41M143.31 107.86A87.6 87.6 0 0 1 145.44 106.98M148.09 105.96A87.6 87.6 0 0 1 149.7 105.4M155.1 103.75A87.6 87.6 0 0 1 156.98 103.26M215.86 109.3A87.6 87.6 0 0 1 218.26 110.5M228.16 116.48A87.6 87.6 0 0 1 230.86 118.44M233.76 120.74A87.6 87.6 0 0 1 235.17 121.93M238.7 125.14A87.6 87.6 0 0 1 240.46 126.88M241.88 128.35A87.6 87.6 0 0 1 243.2 129.8M244.11 130.83A87.6 87.6 0 0 1 244.99 131.86M249.6 137.83A87.6 87.6 0 0 1 252.16 141.67M259.6 156.44A87.6 87.6 0 0 1 260.34 158.39M261.9 163.1A87.6 87.6 0 0 1 262.77 166.22M263.85 170.9A87.6 87.6 0 0 1 264.65 175.45M265.02 178.24A87.6 87.6 0 0 1 265.21 180.01M265.4 182.34A87.6 87.6 0 0 1 265.54 185.08" stroke="#111" stroke-width="0.7" fill="none"/>
<path d="M279.34 201.53A102.2 102.2 0 0 1 279.07 203.48M278.22 208.33A102.2 102.2 0 0 1 277.9 209.86M274.04 223.24A102.2 102.2 0 0 1 273.39 224.97M266.08 240.14A102.2 102.2 0 0 1 265.03 241.88M235.95 272.48A102.2 102.2 0 0 1 234.39 273.53M220.45 281.27A102.2 102.2 0 0 1 218.83 281.99M190.87 289.69A102.2 102.2 0 0 1 189.04 289.9M174.98 290.46A102.2 102.2 0 0 1 171.43 290.29M167.58 289.97A102.2 102.2 0 0 1 165.68 289.76M127.02 276.88A102.2 102.2 0 0 1 125.18 275.79M121.76 273.63A102.2 102.2 0 0 1 119.99 272.44M111.54 265.94A102.2 102.2 0 0 1 110.15 264.73M98.65 252.71A102.2 102.2 0 0 1 97.64 251.44M77.41 206.36A102.2 102.2 0 0 1 77.01 203.97M80.65 157.2A102.2 102.2 0 0 1 81.4 154.92M82.04 153.13A102.2 102.2 0 0 1 83.81 148.65M86.25 143.27A102.2 102.2 0 0 1 87.01 141.76M89.6 137.02A102.2 102.2 0 0 1 90.8 135M95.57 127.88A102.2 102.2 0 0 1 96.5 126.64M100.71 121.43A102.2 102.2 0 0 1 102.17 119.78M104.61 117.17A102.2 102.2 0 0 1 106.19 115.58M128.61 98.83A102.2 102.2 0 0 1 130.74 97.68M132.63 96.72A102.2 102.2 0 0 1 134.25 95.94M138.9 93.88A102.2 102.2 0 0 1 141.14 92.98M156.78 88.33A102.2 102.2 0 0 1 158.5 87.98M167.33 86.66A102.2 102.2 0 0 1 171.49 86.31M175.44 86.13A102.2 102.2 0 0 1 179.67 86.11M196.6 87.81A102.2 102.2 0 0 1 198.2 88.12M207.78 90.53A102.2 102.2 0 0 1 209.69 91.14M223.98 97.03A102.2 102.2 0 0 1 225.94 98.04M229.66 100.12A102.2 102.2 0 0 1 233.1 102.22M248.2 114.02A102.2 102.2 0 0 1 249.44 115.22M259.37 126.46A102.2 102.2 0 0 1 260.29 127.7M264.09 133.22A102.2 102.2 0 0 1 264.95 134.59M270.05 143.9A102.2 102.2 0 0 1 270.77 145.43M271.75 147.61A102.2 102.2 0 0 1 272.48 149.32M274.81 155.56A102.2 102.2 0 0 1 275.32 157.1M277.3 164.14A102.2 102.2 0 0 1 277.71 165.87M278.45 169.46A102.2 102.2 0 0 1 278.8 171.44M279.91 180.58A102.2 102.2 0 0 1 280.01 182.11" stroke="#111" stroke-width="0.7" fill="none"/>
<circle cx="178" cy="188.3" r="43.8" stroke="#111" stroke-width="0.9" fill="none"/>
<path d="M207.16 189.83A29.2 29.2 0 1 1 206.07 180.25" stroke="#000" stroke-width="1.6" fill="none"/>
<line x1="163.4" y1="188.3" x2="148.8" y2="188.3" stroke="#555" stroke-width="0.8"/>
<line x1="192.6" y1="188.3" x2="207.2" y2="188.3" stroke="#555" stroke-width="0.8"/>
<g fill="#c8c81c" stroke="#1c1c00" stroke-width="0.7"><circle cx="280.2" cy="189.19" r="1.55"/><circle cx="280.16" cy="190.98" r="1.55"/><circle cx="280.11" cy="192.59" r="1.55"/><circle cx="280" cy="194.69" r="1.55"/><circle cx="279.89" cy="196.22" r="1.55"/><circle cx="279.72" cy="198.21" r="1.55"/><circle cx="279.53" cy="200.02" r="1.55"/><circle cx="279.34" cy="201.53" r="1.55"/><circle cx="279.07" cy="203.48" r="1.55"/><circle cx="278.83" cy="204.96" r="1.55"/><circle cx="278.51" cy="206.83" r="1.55"/><circle cx="278.22" cy="208.33" r="1.55"/><circle cx="277.9" cy="209.86" r="1.55"/><circle cx="277.49" cy="211.69" r="1.55"/><circle cx="276.94" cy="213.9" r="1.55"/><circle cx="276.53" cy="215.44" r="1.55"/><circle cx="276.07" cy="217.06" r="1.55"/><circle cx="275.47" cy="219.05" r="1.55"/><circle cx="274.72" cy="221.32" r="1.55"/><circle cx="274.04" cy="223.24" r="1.55"/><circle cx="273.39" cy="224.97" r="1.55"/><circle cx="272.5" cy="227.22" r="1.55"/><circle cx="271.91" cy="228.62" r="1.55"/><circle cx="270.98" cy="230.73" r="1.55"/><circle cx="270.24" cy="232.31" r="1.55"/><circle cx="269.53" cy="233.76" r="1.55"/><circle cx="268.82" cy="235.17" r="1.55"/><circle cx="267.99" cy="236.73" r="1.55"/><circle cx="266.9" cy="238.72" r="1.55"/><circle cx="266.08" cy="240.14" r="1.55"/><circle cx="265.03" cy="241.88" r="1.55"/><circle cx="263.91" cy="243.65" r="1.55"/><circle cx="262.91" cy="245.18" r="1.55"/><circle cx="261.78" cy="246.84" r="1.55"/><circle cx="260.89" cy="248.08" r="1.55"/><circle cx="259.99" cy="249.31" r="1.55"/><circle cx="258.98" cy="250.64" r="1.55"/><circle cx="257.66" cy="252.32" r="1.55"/><circle cx="256.47" cy="253.78" r="1.55"/><circle cx="255.32" cy="255.13" r="1.55"/><circle cx="253.97" cy="256.66" r="1.55"/><circle cx="252.68" cy="258.07" r="1.55"/><circle cx="251.47" cy="259.34" r="1.55"/><circle cx="249.89" cy="260.94" r="1.55"/><circle cx="248.35" cy="262.44" r="1.55"/><circle cx="247.1" cy="263.6" r="1.55"/><circle cx="245.59" cy="264.96" r="1.55"/><circle cx="244.09" cy="266.25" r="1.55"/><circle cx="242.31" cy="267.73" r="1.55"/><circle cx="240.6" cy="269.09" r="1.55"/><circle cx="239.21" cy="270.15" r="1.55"/><circle cx="237.25" cy="271.58" r="1.55"/><circle cx="235.95" cy="272.48" r="1.55"/><circle cx="234.39" cy="273.53" r="1.55"/><circle cx="232.54" cy="274.73" r="1.55"/><circle cx="231.17" cy="275.58" r="1.55"/><circle cx="229.5" cy="276.58" r="1.55"/><circle cx="228.19" cy="277.33" r="1.55"/><circle cx="226.33" cy="278.35" r="1.55"/><circle cx="224.37" cy="279.37" r="1.55"/><circle cx="222.56" cy="280.28" r="1.55"/><circle cx="220.45" cy="281.27" r="1.55"/><circle cx="218.83" cy="281.99" r="1.55"/><circle cx="216.86" cy="282.83" r="1.55"/><circle cx="214.95" cy="283.58" r="1.55"/><circle cx="213.05" cy="284.3" r="1.55"/><circle cx="211.25" cy="284.94" r="1.55"/><circle cx="209.08" cy="285.66" r="1.55"/><circle cx="206.79" cy="286.36" r="1.55"/><circle cx="204.93" cy="286.89" r="1.55"/><circle cx="202.89" cy="287.42" r="1.55"/><circle cx="201.4" cy="287.78" r="1.55"/><circle cx="199.3" cy="288.26" r="1.55"/><circle cx="197.24" cy="288.67" r="1.55"/><circle cx="194.84" cy="289.1" r="1.55"/><circle cx="192.6" cy="289.45" r="1.55"/><circle cx="190.87" cy="289.69" r="1.55"/><circle cx="189.04" cy="289.9" r="1.55"/><circle cx="186.93" cy="290.11" r="1.55"/><circle cx="185.44" cy="290.23" r="1.55"/><circle cx="183.53" cy="290.35" r="1.55"/><circle cx="181.9" cy="290.43" r="1.55"/><circle cx="180.32" cy="290.47" r="1.55"/><circle cx="178.8" cy="290.5" r="1.55"/><circle cx="176.58" cy="290.49" r="1.55"/><circle cx="174.98" cy="290.46" r="1.55"/><circle cx="173.28" cy="290.39" r="1.55"/><circle cx="171.43" cy="290.29" r="1.55"/><circle cx="169.12" cy="290.11" r="1.55"/><circle cx="167.58" cy="289.97" r="1.55"/><circle cx="165.68" cy="289.76" r="1.55"/><circle cx="163.7" cy="289.49" r="1.55"/><circle cx="161.39" cy="289.14" r="1.55"/><circle cx="159.16" cy="288.75" r="1.55"/><circle cx="156.89" cy="288.3" r="1.55"/><circle cx="155.19" cy="287.92" r="1.55"/><circle cx="153.37" cy="287.49" r="1.55"/><circle cx="151.61" cy="287.03" r="1.55"/><circle cx="149.37" cy="286.41" r="1.55"/><circle cx="147.07" cy="285.71" r="1.55"/><circle cx="145.53" cy="285.21" r="1.55"/><circle cx="143.98" cy="284.67" r="1.55"/><circle cx="142.39" cy="284.1" r="1.55"/><circle cx="140.81" cy="283.49" r="1.55"/><circle cx="139" cy="282.77" r="1.55"/><circle cx="137.12" cy="281.97" r="1.55"/><circle cx="135.55" cy="281.27" r="1.55"/><circle cx="134.22" cy="280.65" r="1.55"/><circle cx="132.53" cy="279.83" r="1.55"/><circle cx="130.9" cy="279" r="1.55"/><circle cx="129.11" cy="278.05" r="1.55"/><circle cx="127.02" cy="276.88" r="1.55"/><circle cx="125.18" cy="275.79" r="1.55"/><circle cx="123.5" cy="274.75" r="1.55"/><circle cx="121.76" cy="273.63" r="1.55"/><circle cx="119.99" cy="272.44" r="1.55"/><circle cx="118.75" cy="271.57" r="1.55"/><circle cx="116.85" cy="270.19" r="1.55"/><circle cx="115.08" cy="268.84" r="1.55"/><circle cx="113.27" cy="267.39" r="1.55"/><circle cx="111.54" cy="265.94" r="1.55"/><circle cx="110.15" cy="264.73" r="1.55"/><circle cx="108.77" cy="263.48" r="1.55"/><circle cx="107.63" cy="262.41" r="1.55"/><circle cx="106.13" cy="260.96" r="1.55"/><circle cx="105.05" cy="259.87" r="1.55"/><circle cx="103.98" cy="258.77" r="1.55"/><circle cx="102.84" cy="257.55" r="1.55"/><circle cx="101.75" cy="256.35" r="1.55"/><circle cx="100.56" cy="255" r="1.55"/><circle cx="99.58" cy="253.84" r="1.55"/><circle cx="98.65" cy="252.71" r="1.55"/><circle cx="97.64" cy="251.44" r="1.55"/><circle cx="96.68" cy="250.21" r="1.55"/><circle cx="95.59" cy="248.75" r="1.55"/><circle cx="94.72" cy="247.54" r="1.55"/><circle cx="93.39" cy="245.63" r="1.55"/><circle cx="92.25" cy="243.91" r="1.55"/><circle cx="91.38" cy="242.55" r="1.55"/><circle cx="90.49" cy="241.09" r="1.55"/><circle cx="89.57" cy="239.53" r="1.55"/><circle cx="88.67" cy="237.95" r="1.55"/><circle cx="87.91" cy="236.55" r="1.55"/><circle cx="86.85" cy="234.52" r="1.55"/><circle cx="85.77" cy="232.33" r="1.55"/><circle cx="84.96" cy="230.58" r="1.55"/><circle cx="84.17" cy="228.81" r="1.55"/><circle cx="83.57" cy="227.38" r="1.55"/><circle cx="82.98" cy="225.93" r="1.55"/><circle cx="82.33" cy="224.25" r="1.55"/><circle cx="81.74" cy="222.63" r="1.55"/><circle cx="81" cy="220.47" r="1.55"/><circle cx="80.5" cy="218.93" r="1.55"/><circle cx="80.06" cy="217.5" r="1.55"/><circle cx="79.4" cy="215.2" r="1.55"/><circle cx="78.9" cy="213.28" r="1.55"/><circle cx="78.52" cy="211.72" r="1.55"/><circle cx="78.08" cy="209.77" r="1.55"/><circle cx="77.78" cy="208.31" r="1.55"/><circle cx="77.41" cy="206.36" r="1.55"/><circle cx="77.01" cy="203.97" r="1.55"/><circle cx="76.68" cy="201.68" r="1.55"/><circle cx="76.42" cy="199.55" r="1.55"/><circle cx="76.25" cy="197.83" r="1.55"/><circle cx="76.09" cy="196.01" r="1.55"/><circle cx="75.98" cy="194.39" r="1.55"/><circle cx="75.87" cy="192.17" r="1.55"/><circle cx="75.82" cy="190.18" r="1.55"/><circle cx="75.8" cy="187.95" r="1.55"/><circle cx="75.82" cy="186.16" r="1.55"/><circle cx="75.87" cy="184.48" r="1.55"/><circle cx="75.98" cy="182.22" r="1.55"/><circle cx="76.15" cy="179.8" r="1.55"/><circle cx="76.37" cy="177.51" r="1.55"/><circle cx="76.63" cy="175.27" r="1.55"/><circle cx="76.95" cy="173.02" r="1.55"/><circle cx="77.3" cy="170.86" r="1.55"/><circle cx="77.6" cy="169.2" r="1.55"/><circle cx="77.99" cy="167.26" r="1.55"/><circle cx="78.38" cy="165.49" r="1.55"/><circle cx="78.72" cy="164.04" r="1.55"/><circle cx="79.09" cy="162.59" r="1.55"/><circle cx="79.54" cy="160.91" r="1.55"/><circle cx="80.01" cy="159.25" r="1.55"/><circle cx="80.65" cy="157.2" r="1.55"/><circle cx="81.4" cy="154.92" r="1.55"/><circle cx="82.04" cy="153.13" r="1.55"/><circle cx="82.89" cy="150.9" r="1.55"/><circle cx="83.81" cy="148.65" r="1.55"/><circle cx="84.76" cy="146.45" r="1.55"/><circle cx="85.52" cy="144.79" r="1.55"/><circle cx="86.25" cy="143.27" r="1.55"/><circle cx="87.01" cy="141.76" r="1.55"/><circle cx="87.78" cy="140.29" r="1.55"/><circle cx="88.57" cy="138.83" r="1.55"/><circle cx="89.6" cy="137.02" r="1.55"/><circle cx="90.8" cy="135" r="1.55"/><circle cx="92.01" cy="133.06" r="1.55"/><circle cx="93.07" cy="131.45" r="1.55"/><circle cx="94.26" cy="129.71" r="1.55"/><circle cx="95.57" cy="127.88" r="1.55"/><circle cx="96.5" cy="126.64" r="1.55"/><circle cx="97.79" cy="124.97" r="1.55"/><circle cx="99.27" cy="123.13" r="1.55"/><circle cx="100.71" cy="121.43" r="1.55"/><circle cx="102.17" cy="119.78" r="1.55"/><circle cx="103.48" cy="118.36" r="1.55"/><circle cx="104.61" cy="117.17" r="1.55"/><circle cx="106.19" cy="115.58" r="1.55"/><circle cx="107.48" cy="114.33" r="1.55"/><circle cx="109.12" cy="112.8" r="1.55"/><circle cx="110.93" cy="111.19" r="1.55"/><circle cx="112.34" cy="109.99" r="1.55"/><circle cx="113.77" cy="108.8" r="1.55"/><circle cx="115.65" cy="107.32" r="1.55"/><circle cx="117.39" cy="106.01" r="1.55"/><circle cx="118.71" cy="105.05" r="1.55"/><circle cx="120.01" cy="104.14" r="1.55"/><circle cx="121.35" cy="103.24" r="1.55"/><circle cx="123.32" cy="101.96" r="1.55"/><circle cx="125.24" cy="100.77" r="1.55"/><circle cx="126.63" cy="99.95" r="1.55"/><circle cx="128.61" cy="98.83" r="1.55"/><circle cx="130.74" cy="97.68" r="1.55"/><circle cx="132.63" cy="96.72" r="1.55"/><circle cx="134.25" cy="95.94" r="1.55"/><circle cx="136.07" cy="95.1" r="1.55"/><circle cx="137.53" cy="94.45" r="1.55"/><circle cx="138.9" cy="93.88" r="1.55"/><circle cx="141.14" cy="92.98" r="1.55"/><circle cx="143.11" cy="92.24" r="1.55"/><circle cx="144.98" cy="91.58" r="1.55"/><circle cx="147.24" cy="90.84" r="1.55"/><circle cx="149.05" cy="90.29" r="1.55"/><circle cx="151.28" cy="89.66" r="1.55"/><circle cx="153.48" cy="89.08" r="1.55"/><circle cx="155.11" cy="88.7" r="1.55"/><circle cx="156.78" cy="88.33" r="1.55"/><circle cx="158.5" cy="87.98" r="1.55"/><circle cx="160.17" cy="87.67" r="1.55"/><circle cx="162.19" cy="87.33" r="1.55"/><circle cx="163.89" cy="87.08" r="1.55"/><circle cx="165.75" cy="86.84" r="1.55"/><circle cx="167.33" cy="86.66" r="1.55"/><circle cx="169.68" cy="86.44" r="1.55"/><circle cx="171.49" cy="86.31" r="1.55"/><circle cx="173.4" cy="86.2" r="1.55"/><circle cx="175.44" cy="86.13" r="1.55"/><circle cx="177.79" cy="86.1" r="1.55"/><circle cx="179.67" cy="86.11" r="1.55"/><circle cx="182.03" cy="86.18" r="1.55"/><circle cx="183.98" cy="86.28" r="1.55"/><circle cx="185.97" cy="86.41" r="1.55"/><circle cx="187.94" cy="86.58" r="1.55"/><circle cx="189.42" cy="86.74" r="1.55"/><circle cx="191.3" cy="86.97" r="1.55"/><circle cx="192.93" cy="87.2" r="1.55"/><circle cx="194.38" cy="87.42" r="1.55"/><circle cx="196.6" cy="87.81" r="1.55"/><circle cx="198.2" cy="88.12" r="1.55"/><circle cx="200.09" cy="88.52" r="1.55"/><circle cx="202.21" cy="89.01" r="1.55"/><circle cx="204.16" cy="89.5" r="1.55"/><circle cx="205.88" cy="89.98" r="1.55"/><circle cx="207.78" cy="90.53" r="1.55"/><circle cx="209.69" cy="91.14" r="1.55"/><circle cx="211.81" cy="91.85" r="1.55"/><circle cx="213.29" cy="92.39" r="1.55"/><circle cx="215.17" cy="93.1" r="1.55"/><circle cx="216.76" cy="93.73" r="1.55"/><circle cx="218.36" cy="94.41" r="1.55"/><circle cx="220.39" cy="95.31" r="1.55"/><circle cx="222.17" cy="96.14" r="1.55"/><circle cx="223.98" cy="97.03" r="1.55"/><circle cx="225.94" cy="98.04" r="1.55"/><circle cx="228.01" cy="99.17" r="1.55"/><circle cx="229.66" cy="100.12" r="1.55"/><circle cx="231.43" cy="101.18" r="1.55"/><circle cx="233.1" cy="102.22" r="1.55"/><circle cx="234.74" cy="103.3" r="1.55"/><circle cx="236.51" cy="104.51" r="1.55"/><circle cx="238.07" cy="105.62" r="1.55"/><circle cx="239.67" cy="106.8" r="1.55"/><circle cx="241.2" cy="107.98" r="1.55"/><circle cx="243.06" cy="109.48" r="1.55"/><circle cx="244.7" cy="110.87" r="1.55"/><circle cx="246.44" cy="112.4" r="1.55"/><circle cx="248.2" cy="114.02" r="1.55"/><circle cx="249.44" cy="115.22" r="1.55"/><circle cx="250.87" cy="116.64" r="1.55"/><circle cx="252.52" cy="118.36" r="1.55"/><circle cx="254.07" cy="120.05" r="1.55"/><circle cx="255.13" cy="121.25" r="1.55"/><circle cx="256.16" cy="122.45" r="1.55"/><circle cx="257.37" cy="123.92" r="1.55"/><circle cx="258.33" cy="125.12" r="1.55"/><circle cx="259.37" cy="126.46" r="1.55"/><circle cx="260.29" cy="127.7" r="1.55"/><circle cx="261.53" cy="129.42" r="1.55"/><circle cx="262.8" cy="131.26" r="1.55"/><circle cx="264.09" cy="133.22" r="1.55"/><circle cx="264.95" cy="134.59" r="1.55"/><circle cx="266.07" cy="136.44" r="1.55"/><circle cx="267.12" cy="138.27" r="1.55"/><circle cx="267.89" cy="139.68" r="1.55"/><circle cx="268.98" cy="141.74" r="1.55"/><circle cx="270.05" cy="143.9" r="1.55"/><circle cx="270.77" cy="145.43" r="1.55"/><circle cx="271.75" cy="147.61" r="1.55"/><circle cx="272.48" cy="149.32" r="1.55"/><circle cx="273.2" cy="151.13" r="1.55"/><circle cx="274.06" cy="153.41" r="1.55"/><circle cx="274.81" cy="155.56" r="1.55"/><circle cx="275.32" cy="157.1" r="1.55"/><circle cx="275.88" cy="158.91" r="1.55"/><circle cx="276.43" cy="160.8" r="1.55"/><circle cx="276.9" cy="162.53" r="1.55"/><circle cx="277.3" cy="164.14" r="1.55"/><circle cx="277.71" cy="165.87" r="1.55"/><circle cx="278.16" cy="168" r="1.55"/><circle cx="278.45" cy="169.46" r="1.55"/><circle cx="278.8" cy="171.44" r="1.55"/><circle cx="279.09" cy="173.31" r="1.55"/><circle cx="279.3" cy="174.78" r="1.55"/><circle cx="279.52" cy="176.56" r="1.55"/><circle cx="279.74" cy="178.62" r="1.55"/><circle cx="279.91" cy="180.58" r="1.55"/><circle cx="280.01" cy="182.11" r="1.55"/><circle cx="280.13" cy="184.54" r="1.55"/><circle cx="280.19" cy="186.77" r="1.55"/><circle cx="265.6" cy="189.06" r="1.58"/><circle cx="265.57" cy="190.59" r="1.57"/><circle cx="265.52" cy="191.98" r="1.56"/><circle cx="265.43" cy="193.78" r="1.57"/><circle cx="265.34" cy="195.09" r="1.58"/><circle cx="265.19" cy="196.79" r="1.58"/><circle cx="265.02" cy="198.35" r="1.57"/><circle cx="264.75" cy="200.48" r="1.6"/><circle cx="264.43" cy="202.58" r="1.57"/><circle cx="264.15" cy="204.18" r="1.57"/><circle cx="263.77" cy="206.12" r="1.61"/><circle cx="263.27" cy="208.35" r="1.57"/><circle cx="262.81" cy="210.24" r="1.56"/><circle cx="262.46" cy="211.56" r="1.58"/><circle cx="262.06" cy="212.95" r="1.56"/><circle cx="261.54" cy="214.65" r="1.56"/><circle cx="260.9" cy="216.6" r="1.57"/><circle cx="260.05" cy="218.99" r="1.6"/><circle cx="259" cy="221.66" r="1.58"/><circle cx="258.5" cy="222.86" r="1.58"/><circle cx="257.7" cy="224.67" r="1.57"/><circle cx="257.06" cy="226.03" r="1.56"/><circle cx="256.46" cy="227.26" r="1.58"/><circle cx="255.84" cy="228.47" r="1.56"/><circle cx="255.14" cy="229.82" r="1.57"/><circle cx="254.2" cy="231.51" r="1.57"/><circle cx="253.05" cy="233.48" r="1.6"/><circle cx="251.64" cy="235.75" r="1.58"/><circle cx="250.78" cy="237.06" r="1.57"/><circle cx="249.81" cy="238.47" r="1.58"/><circle cx="249.05" cy="239.54" r="1.58"/><circle cx="248.28" cy="240.6" r="1.57"/><circle cx="247.41" cy="241.74" r="1.56"/><circle cx="246.28" cy="243.17" r="1.58"/><circle cx="245.26" cy="244.42" r="1.58"/><circle cx="244.28" cy="245.58" r="1.56"/><circle cx="243.12" cy="246.89" r="1.57"/><circle cx="242.01" cy="248.1" r="1.58"/><circle cx="240.97" cy="249.19" r="1.57"/><circle cx="239.62" cy="250.56" r="1.57"/><circle cx="238.3" cy="251.84" r="1.58"/><circle cx="237.23" cy="252.84" r="1.58"/><circle cx="235.94" cy="254.01" r="1.58"/><circle cx="234.65" cy="255.12" r="1.58"/><circle cx="233.12" cy="256.39" r="1.56"/><circle cx="231.65" cy="257.55" r="1.56"/><circle cx="230.46" cy="258.45" r="1.58"/><circle cx="228.78" cy="259.68" r="1.58"/><circle cx="227.01" cy="260.91" r="1.56"/><circle cx="224.75" cy="262.38" r="1.56"/><circle cx="223.57" cy="263.11" r="1.57"/><circle cx="222.14" cy="263.97" r="1.58"/><circle cx="221.02" cy="264.61" r="1.57"/><circle cx="219.43" cy="265.48" r="1.58"/><circle cx="217.75" cy="266.36" r="1.58"/><circle cx="216.19" cy="267.14" r="1.58"/><circle cx="213.7" cy="268.3" r="1.61"/><circle cx="211.31" cy="269.32" r="1.57"/><circle cx="209.68" cy="269.97" r="1.56"/><circle cx="208.04" cy="270.59" r="1.55"/><circle cx="206.5" cy="271.13" r="1.58"/><circle cx="204.64" cy="271.75" r="1.56"/><circle cx="202.68" cy="272.35" r="1.58"/><circle cx="201.08" cy="272.8" r="1.58"/><circle cx="199.33" cy="273.26" r="1.56"/><circle cx="198.06" cy="273.57" r="1.58"/><circle cx="196.26" cy="273.98" r="1.56"/><circle cx="194.49" cy="274.33" r="1.57"/><circle cx="192.44" cy="274.7" r="1.56"/><circle cx="190.51" cy="275" r="1.58"/><circle cx="188.25" cy="275.3" r="1.61"/><circle cx="185.65" cy="275.57" r="1.58"/><circle cx="184.38" cy="275.67" r="1.55"/><circle cx="182.74" cy="275.77" r="1.58"/><circle cx="181.34" cy="275.84" r="1.57"/><circle cx="179.99" cy="275.88" r="1.58"/><circle cx="178.68" cy="275.9" r="1.57"/><circle cx="176.78" cy="275.89" r="1.58"/><circle cx="173.89" cy="275.8" r="1.63"/><circle cx="170.39" cy="275.57" r="1.58"/><circle cx="168.25" cy="275.36" r="1.57"/><circle cx="165.74" cy="275.04" r="1.56"/><circle cx="163.77" cy="274.74" r="1.57"/><circle cx="161.85" cy="274.4" r="1.57"/><circle cx="159.91" cy="274.01" r="1.57"/><circle cx="158.45" cy="273.69" r="1.55"/><circle cx="156.89" cy="273.32" r="1.58"/><circle cx="155.38" cy="272.93" r="1.56"/><circle cx="153.46" cy="272.39" r="1.58"/><circle cx="151.49" cy="271.79" r="1.58"/><circle cx="150.17" cy="271.36" r="1.57"/><circle cx="148.84" cy="270.9" r="1.56"/><circle cx="147.48" cy="270.41" r="1.58"/><circle cx="146.12" cy="269.89" r="1.57"/><circle cx="144.58" cy="269.27" r="1.57"/><circle cx="142.96" cy="268.59" r="1.56"/><circle cx="141.61" cy="267.99" r="1.58"/><circle cx="140.47" cy="267.45" r="1.57"/><circle cx="139.02" cy="266.75" r="1.57"/><circle cx="137.63" cy="266.04" r="1.56"/><circle cx="136.1" cy="265.23" r="1.58"/><circle cx="133.51" cy="263.76" r="1.61"/><circle cx="131.28" cy="262.4" r="1.58"/><circle cx="129.03" cy="260.94" r="1.57"/><circle cx="127.21" cy="259.68" r="1.57"/><circle cx="125.59" cy="258.49" r="1.57"/><circle cx="124.07" cy="257.33" r="1.58"/><circle cx="122.51" cy="256.09" r="1.56"/><circle cx="120.44" cy="254.33" r="1.6"/><circle cx="118.66" cy="252.74" r="1.58"/><circle cx="117.68" cy="251.82" r="1.58"/><circle cx="116.39" cy="250.58" r="1.55"/><circle cx="115.47" cy="249.65" r="1.56"/><circle cx="114.56" cy="248.71" r="1.56"/><circle cx="113.58" cy="247.66" r="1.58"/><circle cx="112.64" cy="246.63" r="1.58"/><circle cx="111.63" cy="245.47" r="1.57"/><circle cx="110.78" cy="244.48" r="1.57"/><circle cx="109.55" cy="242.97" r="1.59"/><circle cx="108.3" cy="241.36" r="1.58"/><circle cx="107.36" cy="240.11" r="1.58"/><circle cx="106.62" cy="239.07" r="1.58"/><circle cx="105.48" cy="237.44" r="1.58"/><circle cx="104.5" cy="235.96" r="1.58"/><circle cx="103.76" cy="234.8" r="1.58"/><circle cx="102.99" cy="233.55" r="1.58"/><circle cx="102.2" cy="232.21" r="1.58"/><circle cx="101.43" cy="230.85" r="1.56"/><circle cx="100.78" cy="229.66" r="1.58"/><circle cx="99.87" cy="227.91" r="1.58"/><circle cx="98.95" cy="226.04" r="1.57"/><circle cx="98.25" cy="224.54" r="1.58"/><circle cx="97.58" cy="223.02" r="1.56"/><circle cx="97.06" cy="221.8" r="1.58"/><circle cx="96.55" cy="220.55" r="1.57"/><circle cx="96" cy="219.11" r="1.58"/><circle cx="95.49" cy="217.72" r="1.57"/><circle cx="94.85" cy="215.88" r="1.57"/><circle cx="94.43" cy="214.55" r="1.57"/><circle cx="94.05" cy="213.33" r="1.57"/><circle cx="93.49" cy="211.36" r="1.56"/><circle cx="93.06" cy="209.71" r="1.57"/><circle cx="92.73" cy="208.37" r="1.58"/><circle cx="92.35" cy="206.7" r="1.58"/><circle cx="92.09" cy="205.45" r="1.58"/><circle cx="91.6" cy="202.75" r="1.61"/><circle cx="91.15" cy="199.77" r="1.58"/><circle cx="90.93" cy="197.94" r="1.58"/><circle cx="90.78" cy="196.47" r="1.58"/><circle cx="90.65" cy="194.91" r="1.57"/><circle cx="90.56" cy="193.52" r="1.57"/><circle cx="90.46" cy="191.62" r="1.57"/><circle cx="90.41" cy="189.91" r="1.55"/><circle cx="90.4" cy="188" r="1.57"/><circle cx="90.42" cy="186.47" r="1.58"/><circle cx="90.46" cy="185.02" r="1.58"/><circle cx="90.56" cy="183.09" r="1.57"/><circle cx="90.7" cy="181.01" r="1.58"/><circle cx="90.89" cy="179.05" r="1.58"/><circle cx="91.12" cy="177.13" r="1.58"/><circle cx="91.38" cy="175.2" r="1.58"/><circle cx="91.68" cy="173.35" r="1.57"/><circle cx="91.94" cy="171.93" r="1.56"/><circle cx="92.28" cy="170.27" r="1.58"/><circle cx="92.61" cy="168.75" r="1.57"/><circle cx="92.9" cy="167.5" r="1.58"/><circle cx="93.22" cy="166.26" r="1.57"/><circle cx="93.61" cy="164.82" r="1.57"/><circle cx="94.01" cy="163.4" r="1.58"/><circle cx="94.87" cy="160.67" r="1.58"/><circle cx="96.48" cy="156.23" r="1.62"/><circle cx="98.08" cy="152.43" r="1.58"/><circle cx="98.74" cy="151.01" r="1.57"/><circle cx="99.68" cy="149.06" r="1.61"/><circle cx="100.67" cy="147.15" r="1.57"/><circle cx="101.35" cy="145.9" r="1.58"/><circle cx="102.73" cy="143.48" r="1.61"/><circle cx="104.3" cy="140.96" r="1.58"/><circle cx="105.21" cy="139.57" r="1.56"/><circle cx="106.23" cy="138.08" r="1.57"/><circle cx="107.74" cy="135.98" r="1.59"/><circle cx="109.25" cy="134.01" r="1.58"/><circle cx="110.52" cy="132.44" r="1.55"/><circle cx="112.38" cy="130.27" r="1.58"/><circle cx="114.13" cy="128.35" r="1.58"/><circle cx="115.77" cy="126.65" r="1.62"/><circle cx="117.55" cy="124.9" r="1.56"/><circle cx="118.96" cy="123.58" r="1.57"/><circle cx="120.51" cy="122.21" r="1.58"/><circle cx="121.72" cy="121.17" r="1.58"/><circle cx="122.95" cy="120.16" r="1.58"/><circle cx="124.56" cy="118.89" r="1.58"/><circle cx="126.05" cy="117.77" r="1.57"/><circle cx="127.18" cy="116.95" r="1.57"/><circle cx="128.3" cy="116.16" r="1.56"/><circle cx="129.44" cy="115.39" r="1.58"/><circle cx="131.13" cy="114.29" r="1.57"/><circle cx="132.78" cy="113.27" r="1.57"/><circle cx="133.97" cy="112.57" r="1.58"/><circle cx="136.58" cy="111.11" r="1.6"/><circle cx="139.8" cy="109.47" r="1.6"/><circle cx="142.06" cy="108.41" r="1.58"/><circle cx="143.31" cy="107.86" r="1.58"/><circle cx="145.44" cy="106.98" r="1.61"/><circle cx="148.09" cy="105.96" r="1.57"/><circle cx="149.7" cy="105.4" r="1.56"/><circle cx="151.63" cy="104.76" r="1.56"/><circle cx="153.18" cy="104.29" r="1.55"/><circle cx="155.1" cy="103.75" r="1.57"/><circle cx="156.98" cy="103.26" r="1.56"/><circle cx="158.38" cy="102.93" r="1.56"/><circle cx="160.55" cy="102.46" r="1.6"/><circle cx="162.72" cy="102.04" r="1.58"/><circle cx="164.44" cy="101.76" r="1.58"/><circle cx="165.9" cy="101.54" r="1.57"/><circle cx="167.5" cy="101.33" r="1.58"/><circle cx="170.64" cy="101.01" r="1.59"/><circle cx="174.06" cy="100.79" r="1.56"/><circle cx="177.62" cy="100.7" r="1.61"/><circle cx="181.45" cy="100.77" r="1.57"/><circle cx="183.13" cy="100.85" r="1.58"/><circle cx="184.83" cy="100.97" r="1.57"/><circle cx="186.52" cy="101.12" r="1.58"/><circle cx="187.78" cy="101.25" r="1.56"/><circle cx="189.4" cy="101.44" r="1.58"/><circle cx="190.8" cy="101.64" r="1.57"/><circle cx="192.04" cy="101.83" r="1.58"/><circle cx="194.63" cy="102.29" r="1.56"/><circle cx="196.94" cy="102.77" r="1.58"/><circle cx="198.75" cy="103.19" r="1.57"/><circle cx="200.42" cy="103.62" r="1.58"/><circle cx="201.9" cy="104.02" r="1.58"/><circle cx="204.34" cy="104.76" r="1.6"/><circle cx="206.98" cy="105.63" r="1.57"/><circle cx="208.25" cy="106.09" r="1.55"/><circle cx="209.86" cy="106.7" r="1.56"/><circle cx="211.22" cy="107.24" r="1.58"/><circle cx="212.59" cy="107.82" r="1.56"/><circle cx="214.34" cy="108.59" r="1.58"/><circle cx="215.86" cy="109.3" r="1.58"/><circle cx="218.26" cy="110.5" r="1.6"/><circle cx="220.87" cy="111.91" r="1.56"/><circle cx="223.76" cy="113.6" r="1.59"/><circle cx="226.64" cy="115.44" r="1.56"/><circle cx="228.16" cy="116.48" r="1.58"/><circle cx="229.49" cy="117.43" r="1.57"/><circle cx="230.86" cy="118.44" r="1.58"/><circle cx="232.17" cy="119.46" r="1.58"/><circle cx="233.76" cy="120.74" r="1.57"/><circle cx="235.17" cy="121.93" r="1.56"/><circle cx="236.67" cy="123.25" r="1.55"/><circle cx="238.7" cy="125.14" r="1.61"/><circle cx="240.46" cy="126.88" r="1.56"/><circle cx="241.88" cy="128.35" r="1.58"/><circle cx="243.2" cy="129.8" r="1.57"/><circle cx="244.11" cy="130.83" r="1.58"/><circle cx="244.99" cy="131.86" r="1.56"/><circle cx="246.03" cy="133.11" r="1.58"/><circle cx="246.85" cy="134.14" r="1.57"/><circle cx="248.14" cy="135.82" r="1.59"/><circle cx="249.6" cy="137.83" r="1.57"/><circle cx="250.69" cy="139.41" r="1.56"/><circle cx="252.16" cy="141.67" r="1.58"/><circle cx="253.49" cy="143.85" r="1.58"/><circle cx="254.39" cy="145.42" r="1.57"/><circle cx="255.05" cy="146.63" r="1.57"/><circle cx="255.98" cy="148.39" r="1.58"/><circle cx="257.21" cy="150.9" r="1.58"/><circle cx="258.67" cy="154.16" r="1.58"/><circle cx="259.6" cy="156.44" r="1.57"/><circle cx="260.34" cy="158.39" r="1.57"/><circle cx="261.2" cy="160.9" r="1.59"/><circle cx="261.9" cy="163.1" r="1.58"/><circle cx="262.37" cy="164.73" r="1.57"/><circle cx="262.77" cy="166.22" r="1.58"/><circle cx="263.29" cy="168.34" r="1.56"/><circle cx="263.85" cy="170.9" r="1.58"/><circle cx="264.25" cy="173" r="1.61"/><circle cx="264.65" cy="175.45" r="1.57"/><circle cx="264.83" cy="176.71" r="1.56"/><circle cx="265.02" cy="178.24" r="1.57"/><circle cx="265.21" cy="180.01" r="1.56"/><circle cx="265.4" cy="182.34" r="1.6"/><circle cx="265.54" cy="185.08" r="1.58"/><circle cx="265.59" cy="186.99" r="1.56"/><circle cx="251" cy="188.94" r="1.54"/><circle cx="250.97" cy="190.21" r="1.58"/><circle cx="250.94" cy="191.36" r="1.55"/><circle cx="250.86" cy="192.86" r="1.56"/><circle cx="250.78" cy="193.96" r="1.58"/><circle cx="250.59" cy="196.02" r="1.58"/><circle cx="250.29" cy="198.45" r="1.53"/><circle cx="250.02" cy="200.2" r="1.57"/><circle cx="249.79" cy="201.53" r="1.58"/><circle cx="249.47" cy="203.15" r="1.61"/><circle cx="249.06" cy="205.01" r="1.59"/><circle cx="248.67" cy="206.59" r="1.53"/><circle cx="248.38" cy="207.68" r="1.56"/><circle cx="248.05" cy="208.84" r="1.6"/><circle cx="247.62" cy="210.26" r="1.59"/><circle cx="247.08" cy="211.89" r="1.61"/><circle cx="246.37" cy="213.88" r="1.61"/><circle cx="245.5" cy="216.1" r="1.61"/><circle cx="245.08" cy="217.1" r="1.54"/><circle cx="244.41" cy="218.6" r="1.61"/><circle cx="243.88" cy="219.74" r="1.58"/><circle cx="243.13" cy="221.28" r="1.61"/><circle cx="241.89" cy="223.61" r="1.6"/><circle cx="240.54" cy="225.95" r="1.61"/><circle cx="239.37" cy="227.84" r="1.55"/><circle cx="238.25" cy="229.52" r="1.57"/><circle cx="237.21" cy="231" r="1.56"/><circle cx="236.56" cy="231.88" r="1.61"/><circle cx="235.84" cy="232.83" r="1.58"/><circle cx="234.9" cy="234.03" r="1.6"/><circle cx="234.05" cy="235.07" r="1.53"/><circle cx="233.23" cy="236.04" r="1.58"/><circle cx="232.27" cy="237.13" r="1.57"/><circle cx="230.91" cy="238.59" r="1.61"/><circle cx="229.35" cy="240.19" r="1.59"/><circle cx="228.25" cy="241.25" r="1.57"/><circle cx="227.36" cy="242.09" r="1.54"/><circle cx="226.28" cy="243.05" r="1.62"/><circle cx="225.21" cy="243.98" r="1.58"/><circle cx="223.93" cy="245.04" r="1.55"/><circle cx="222.71" cy="246.01" r="1.51"/><circle cx="221.72" cy="246.76" r="1.59"/><circle cx="220.32" cy="247.78" r="1.58"/><circle cx="217.9" cy="249.43" r="1.54"/><circle cx="215.38" cy="251" r="1.66"/><circle cx="213.85" cy="251.89" r="1.6"/><circle cx="212.52" cy="252.62" r="1.59"/><circle cx="211.12" cy="253.35" r="1.56"/><circle cx="208.79" cy="254.49" r="1.66"/><circle cx="205.75" cy="255.82" r="1.59"/><circle cx="204.4" cy="256.36" r="1.59"/><circle cx="203.04" cy="256.87" r="1.54"/><circle cx="201.75" cy="257.33" r="1.6"/><circle cx="199.38" cy="258.1" r="1.73"/><circle cx="197.24" cy="258.72" r="1.6"/><circle cx="195.78" cy="259.1" r="1.61"/><circle cx="193.97" cy="259.53" r="1.64"/><circle cx="191.75" cy="259.99" r="1.61"/><circle cx="190.03" cy="260.3" r="1.55"/><circle cx="188.43" cy="260.55" r="1.56"/><circle cx="184.93" cy="260.97" r="1.77"/><circle cx="180.8" cy="261.25" r="1.83"/><circle cx="178.57" cy="261.3" r="1.53"/><circle cx="175.78" cy="261.27" r="1.61"/><circle cx="171.66" cy="261.02" r="1.52"/><circle cx="169.88" cy="260.85" r="1.58"/><circle cx="167.78" cy="260.58" r="1.54"/><circle cx="166.14" cy="260.33" r="1.55"/><circle cx="164.54" cy="260.05" r="1.6"/><circle cx="162.92" cy="259.73" r="1.59"/><circle cx="161.71" cy="259.46" r="1.61"/><circle cx="160.41" cy="259.15" r="1.57"/><circle cx="159.15" cy="258.82" r="1.6"/><circle cx="156.72" cy="258.13" r="1.53"/><circle cx="154.25" cy="257.33" r="1.73"/><circle cx="152.56" cy="256.73" r="1.56"/><circle cx="150.11" cy="255.76" r="1.74"/><circle cx="147.68" cy="254.7" r="1.58"/><circle cx="146.73" cy="254.26" r="1.61"/><circle cx="145.52" cy="253.68" r="1.58"/><circle cx="143.72" cy="252.75" r="1.73"/><circle cx="140.93" cy="251.18" r="1.59"/><circle cx="138.13" cy="249.45" r="1.61"/><circle cx="135.68" cy="247.78" r="1.61"/><circle cx="133.69" cy="246.31" r="1.6"/><circle cx="131.76" cy="244.79" r="1.62"/><circle cx="130.03" cy="243.33" r="1.58"/><circle cx="128.55" cy="242" r="1.56"/><circle cx="127.19" cy="240.72" r="1.73"/><circle cx="125.89" cy="239.42" r="1.57"/><circle cx="124.72" cy="238.2" r="1.65"/><circle cx="123.54" cy="236.91" r="1.57"/><circle cx="122.34" cy="235.53" r="1.69"/><circle cx="120.96" cy="233.85" r="1.52"/><circle cx="119.92" cy="232.52" r="1.57"/><circle cx="119.14" cy="231.48" r="1.55"/><circle cx="118.51" cy="230.61" r="1.61"/><circle cx="117.57" cy="229.25" r="1.5"/><circle cx="116.75" cy="228.02" r="1.59"/><circle cx="115.81" cy="226.53" r="1.62"/><circle cx="114.51" cy="224.33" r="1.66"/><circle cx="113.65" cy="222.77" r="1.59"/><circle cx="112.89" cy="221.31" r="1.6"/><circle cx="111.54" cy="218.5" r="1.63"/><circle cx="110.55" cy="216.22" r="1.56"/><circle cx="110.13" cy="215.18" r="1.54"/><circle cx="109.67" cy="213.98" r="1.61"/><circle cx="108.97" cy="212.05" r="1.59"/><circle cx="108.2" cy="209.67" r="1.59"/><circle cx="107.39" cy="206.83" r="1.67"/><circle cx="106.94" cy="205.03" r="1.59"/><circle cx="106.63" cy="203.63" r="1.61"/><circle cx="106.41" cy="202.59" r="1.53"/><circle cx="106" cy="200.34" r="1.56"/><circle cx="105.63" cy="197.86" r="1.55"/><circle cx="105.44" cy="196.33" r="1.59"/><circle cx="105.32" cy="195.11" r="1.58"/><circle cx="105.21" cy="193.81" r="1.57"/><circle cx="105.13" cy="192.65" r="1.61"/><circle cx="105.05" cy="191.06" r="1.59"/><circle cx="105.01" cy="189.64" r="1.61"/><circle cx="105" cy="188.05" r="1.61"/><circle cx="105.02" cy="186.77" r="1.56"/><circle cx="105.19" cy="183.08" r="1.95"/><circle cx="105.6" cy="178.99" r="1.57"/><circle cx="105.82" cy="177.39" r="1.53"/><circle cx="106.07" cy="175.84" r="1.61"/><circle cx="106.29" cy="174.66" r="1.54"/><circle cx="106.56" cy="173.27" r="1.52"/><circle cx="106.84" cy="172.01" r="1.56"/><circle cx="107.09" cy="170.97" r="1.56"/><circle cx="107.35" cy="169.93" r="1.61"/><circle cx="107.67" cy="168.73" r="1.61"/><circle cx="108.01" cy="167.55" r="1.58"/><circle cx="109.37" cy="163.41" r="1.67"/><circle cx="111.4" cy="158.41" r="1.61"/><circle cx="112.34" cy="156.41" r="1.71"/><circle cx="113.56" cy="154.01" r="1.59"/><circle cx="114.12" cy="152.96" r="1.58"/><circle cx="115.28" cy="150.95" r="1.54"/><circle cx="116.58" cy="148.85" r="1.56"/><circle cx="117.34" cy="147.69" r="1.59"/><circle cx="118.19" cy="146.45" r="1.59"/><circle cx="119.45" cy="144.7" r="1.6"/><circle cx="121.23" cy="142.4" r="1.72"/><circle cx="123.31" cy="139.94" r="1.61"/><circle cx="124.77" cy="138.34" r="1.55"/><circle cx="126.88" cy="136.19" r="1.56"/><circle cx="128.8" cy="134.37" r="1.61"/><circle cx="130.59" cy="132.79" r="1.68"/><circle cx="132.79" cy="130.98" r="1.6"/><circle cx="134.71" cy="129.52" r="1.6"/><circle cx="137.28" cy="127.71" r="1.74"/><circle cx="140.32" cy="125.78" r="1.56"/><circle cx="141.31" cy="125.19" r="1.57"/><circle cx="143.48" cy="123.98" r="1.58"/><circle cx="147.11" cy="122.16" r="1.69"/><circle cx="149.98" cy="120.89" r="1.56"/><circle cx="153.74" cy="119.45" r="1.7"/><circle cx="156.03" cy="118.69" r="1.59"/><circle cx="157.32" cy="118.29" r="1.58"/><circle cx="159.7" cy="117.63" r="1.69"/><circle cx="161.65" cy="117.15" r="1.6"/><circle cx="163.46" cy="116.76" r="1.51"/><circle cx="165.27" cy="116.42" r="1.58"/><circle cx="166.7" cy="116.18" r="1.6"/><circle cx="167.92" cy="116" r="1.6"/><circle cx="169.25" cy="115.83" r="1.59"/><circle cx="171.86" cy="115.56" r="1.55"/><circle cx="174.71" cy="115.37" r="1.61"/><circle cx="177.68" cy="115.3" r="1.6"/><circle cx="180.88" cy="115.36" r="1.56"/><circle cx="182.27" cy="115.43" r="1.58"/><circle cx="183.69" cy="115.52" r="1.61"/><circle cx="185.1" cy="115.65" r="1.55"/><circle cx="186.15" cy="115.76" r="1.57"/><circle cx="187.5" cy="115.92" r="1.61"/><circle cx="188.66" cy="116.08" r="1.61"/><circle cx="189.7" cy="116.24" r="1.56"/><circle cx="191.86" cy="116.63" r="1.6"/><circle cx="193.78" cy="117.03" r="1.57"/><circle cx="195.29" cy="117.38" r="1.6"/><circle cx="196.69" cy="117.73" r="1.6"/><circle cx="197.92" cy="118.07" r="1.54"/><circle cx="199.95" cy="118.68" r="1.56"/><circle cx="202.15" cy="119.41" r="1.55"/><circle cx="203.2" cy="119.79" r="1.56"/><circle cx="204.55" cy="120.3" r="1.52"/><circle cx="205.68" cy="120.75" r="1.54"/><circle cx="206.83" cy="121.23" r="1.57"/><circle cx="208.28" cy="121.88" r="1.58"/><circle cx="210.55" cy="122.96" r="1.57"/><circle cx="213.72" cy="124.64" r="1.59"/><circle cx="216.14" cy="126.05" r="1.61"/><circle cx="218.53" cy="127.59" r="1.59"/><circle cx="220.93" cy="129.26" r="1.71"/><circle cx="223.14" cy="130.93" r="1.6"/><circle cx="225.06" cy="132.49" r="1.65"/><circle cx="226.89" cy="134.09" r="1.55"/><circle cx="229.32" cy="136.39" r="1.66"/><circle cx="231.79" cy="138.94" r="1.53"/><circle cx="233.46" cy="140.83" r="1.69"/><circle cx="234.69" cy="142.31" r="1.55"/><circle cx="235.38" cy="143.17" r="1.57"/><circle cx="236.45" cy="144.57" r="1.61"/><circle cx="238.75" cy="147.83" r="1.81"/><circle cx="240.9" cy="151.26" r="1.61"/><circle cx="241.66" cy="152.57" r="1.59"/><circle cx="242.21" cy="153.57" r="1.59"/><circle cx="242.99" cy="155.05" r="1.6"/><circle cx="244.01" cy="157.13" r="1.61"/><circle cx="245.23" cy="159.85" r="1.55"/><circle cx="246.31" cy="162.56" r="1.7"/><circle cx="247.34" cy="165.46" r="1.56"/><circle cx="248.29" cy="168.6" r="1.68"/><circle cx="249.08" cy="171.66" r="1.61"/><circle cx="249.9" cy="175.69" r="1.77"/><circle cx="250.36" cy="178.64" r="1.61"/><circle cx="250.6" cy="180.65" r="1.72"/><circle cx="250.9" cy="184.47" r="1.68"/><circle cx="250.99" cy="187.21" r="1.55"/><circle cx="236.39" cy="189.32" r="1.54"/><circle cx="236.35" cy="190.75" r="1.63"/><circle cx="236.19" cy="193.22" r="1.97"/><circle cx="235.83" cy="196.42" r="1.6"/><circle cx="235.62" cy="197.82" r="1.55"/><circle cx="235.43" cy="198.89" r="1.51"/><circle cx="235.18" cy="200.18" r="1.58"/><circle cx="234.85" cy="201.67" r="1.65"/><circle cx="234.54" cy="202.93" r="1.51"/><circle cx="234.3" cy="203.81" r="1.59"/><circle cx="233.87" cy="205.3" r="1.69"/><circle cx="233.27" cy="207.17" r="1.65"/><circle cx="232.36" cy="209.65" r="1.86"/><circle cx="231.4" cy="211.94" r="1.55"/><circle cx="230.71" cy="213.45" r="1.56"/><circle cx="230.1" cy="214.68" r="1.68"/><circle cx="229.12" cy="216.54" r="1.68"/><circle cx="228.03" cy="218.42" r="1.57"/><circle cx="227.09" cy="219.93" r="1.61"/><circle cx="226.2" cy="221.28" r="1.63"/><circle cx="225.37" cy="222.46" r="1.6"/><circle cx="224.85" cy="223.16" r="1.62"/><circle cx="224.28" cy="223.92" r="1.63"/><circle cx="223.52" cy="224.88" r="1.59"/><circle cx="222.84" cy="225.72" r="1.54"/><circle cx="222.18" cy="226.49" r="1.55"/><circle cx="221.41" cy="227.36" r="1.57"/><circle cx="220.33" cy="228.53" r="1.56"/><circle cx="218.29" cy="230.58" r="1.93"/><circle cx="216.62" cy="232.1" r="1.65"/><circle cx="215.77" cy="232.84" r="1.59"/><circle cx="214.75" cy="233.69" r="1.66"/><circle cx="213.77" cy="234.46" r="1.66"/><circle cx="212.97" cy="235.07" r="1.61"/><circle cx="211.85" cy="235.89" r="1.63"/><circle cx="209.92" cy="237.2" r="1.58"/><circle cx="207.91" cy="238.46" r="1.68"/><circle cx="206.68" cy="239.17" r="1.64"/><circle cx="205.62" cy="239.76" r="1.54"/><circle cx="204.5" cy="240.34" r="1.57"/><circle cx="202.63" cy="241.25" r="1.65"/><circle cx="199.66" cy="242.53" r="1.73"/><circle cx="198.03" cy="243.16" r="1.66"/><circle cx="197" cy="243.52" r="1.59"/><circle cx="195.11" cy="244.14" r="1.66"/><circle cx="192.81" cy="244.79" r="1.83"/><circle cx="189.2" cy="245.62" r="1.67"/><circle cx="184.95" cy="246.29" r="1.78"/><circle cx="179.35" cy="246.68" r="1.66"/><circle cx="173.86" cy="246.55" r="1.96"/><circle cx="168.53" cy="245.93" r="1.99"/><circle cx="165.94" cy="245.44" r="1.66"/><circle cx="164.45" cy="245.11" r="1.68"/><circle cx="161.95" cy="244.45" r="1.61"/><circle cx="158.33" cy="243.29" r="1.8"/><circle cx="155.69" cy="242.27" r="1.64"/><circle cx="153.36" cy="241.25" r="1.64"/><circle cx="152.02" cy="240.6" r="1.58"/><circle cx="150.57" cy="239.86" r="1.64"/><circle cx="148.34" cy="238.61" r="1.56"/><circle cx="146.1" cy="237.22" r="1.65"/><circle cx="144.14" cy="235.88" r="1.59"/><circle cx="142.55" cy="234.71" r="1.59"/><circle cx="140.31" cy="232.91" r="1.74"/><circle cx="137.89" cy="230.75" r="1.77"/><circle cx="135.84" cy="228.71" r="1.81"/><circle cx="134.43" cy="227.19" r="1.53"/><circle cx="133.47" cy="226.08" r="1.66"/><circle cx="132.37" cy="224.74" r="1.59"/><circle cx="131.22" cy="223.26" r="1.7"/><circle cx="130.41" cy="222.15" r="1.65"/><circle cx="129.32" cy="220.57" r="1.8"/><circle cx="127.72" cy="218.01" r="1.79"/><circle cx="126.52" cy="215.87" r="1.67"/><circle cx="125.36" cy="213.59" r="1.67"/><circle cx="123.87" cy="210.22" r="1.7"/><circle cx="123.33" cy="208.84" r="1.65"/><circle cx="122.46" cy="206.35" r="1.69"/><circle cx="121.51" cy="203.12" r="1.57"/><circle cx="121.03" cy="201.12" r="1.67"/><circle cx="120.56" cy="198.83" r="1.82"/><circle cx="120.1" cy="195.94" r="1.67"/><circle cx="119.9" cy="194.24" r="1.81"/><circle cx="119.77" cy="192.71" r="1.68"/><circle cx="119.7" cy="191.78" r="1.66"/><circle cx="119.64" cy="190.51" r="1.6"/><circle cx="119.61" cy="189.37" r="1.6"/><circle cx="119.6" cy="188.1" r="1.66"/><circle cx="119.61" cy="187.08" r="1.54"/><circle cx="119.75" cy="184.12" r="1.64"/><circle cx="120.08" cy="180.85" r="1.55"/><circle cx="120.35" cy="178.95" r="1.58"/><circle cx="120.63" cy="177.38" r="1.63"/><circle cx="120.85" cy="176.28" r="1.57"/><circle cx="121.07" cy="175.27" r="1.68"/><circle cx="121.27" cy="174.43" r="1.67"/><circle cx="121.48" cy="173.61" r="1.62"/><circle cx="121.74" cy="172.65" r="1.58"/><circle cx="122.01" cy="171.7" r="1.56"/><circle cx="123.1" cy="168.39" r="1.63"/><circle cx="124.72" cy="164.38" r="1.63"/><circle cx="125.47" cy="162.79" r="1.61"/><circle cx="126.44" cy="160.87" r="1.66"/><circle cx="126.9" cy="160.03" r="1.63"/><circle cx="127.82" cy="158.42" r="1.66"/><circle cx="128.86" cy="156.74" r="1.56"/><circle cx="129.81" cy="155.31" r="1.6"/><circle cx="131.16" cy="153.42" r="1.61"/><circle cx="132.59" cy="151.58" r="1.63"/><circle cx="134.25" cy="149.61" r="1.59"/><circle cx="137" cy="146.71" r="1.95"/><circle cx="140.07" cy="143.89" r="1.59"/><circle cx="141.83" cy="142.45" r="1.6"/><circle cx="143.37" cy="141.28" r="1.63"/><circle cx="145.43" cy="139.83" r="1.65"/><circle cx="147.85" cy="138.28" r="1.66"/><circle cx="148.64" cy="137.81" r="1.61"/><circle cx="150.38" cy="136.84" r="1.62"/><circle cx="154.43" cy="134.87" r="1.85"/><circle cx="158.6" cy="133.22" r="1.68"/><circle cx="160.94" cy="132.45" r="1.79"/><circle cx="163.36" cy="131.77" r="1.56"/><circle cx="164.92" cy="131.38" r="1.62"/><circle cx="166.37" cy="131.07" r="1.65"/><circle cx="167.81" cy="130.8" r="1.6"/><circle cx="169.45" cy="130.53" r="1.57"/><circle cx="171" cy="130.32" r="1.68"/><circle cx="174.23" cy="130.02" r="1.85"/><circle cx="177.74" cy="129.9" r="1.57"/><circle cx="180.3" cy="129.95" r="1.63"/><circle cx="181.42" cy="130" r="1.64"/><circle cx="182.55" cy="130.08" r="1.6"/><circle cx="184.1" cy="130.22" r="1.6"/><circle cx="185.6" cy="130.4" r="1.66"/><circle cx="186.53" cy="130.53" r="1.66"/><circle cx="187.36" cy="130.66" r="1.62"/><circle cx="190.46" cy="131.25" r="1.66"/><circle cx="192.95" cy="131.85" r="1.62"/><circle cx="195.63" cy="132.63" r="1.67"/><circle cx="198.7" cy="133.69" r="1.86"/><circle cx="200.15" cy="134.26" r="1.54"/><circle cx="201.06" cy="134.65" r="1.6"/><circle cx="202.22" cy="135.16" r="1.66"/><circle cx="204.04" cy="136.03" r="1.57"/><circle cx="206.58" cy="137.37" r="1.56"/><circle cx="209.47" cy="139.11" r="1.6"/><circle cx="214.02" cy="142.33" r="1.72"/><circle cx="220.36" cy="148.1" r="2.17"/><circle cx="225.29" cy="154.03" r="2"/><circle cx="228.63" cy="159.19" r="1.65"/><circle cx="229.37" cy="160.52" r="1.58"/><circle cx="229.99" cy="161.7" r="1.66"/><circle cx="232.24" cy="166.66" r="1.98"/><circle cx="234.56" cy="173.76" r="1.71"/><circle cx="235.52" cy="178.21" r="1.56"/><circle cx="235.99" cy="181.38" r="1.68"/><circle cx="236.32" cy="185.24" r="1.68"/><circle cx="236.39" cy="187.43" r="1.56"/><circle cx="221.78" cy="189.6" r="1.77"/><circle cx="221.64" cy="191.99" r="1.73"/><circle cx="221.37" cy="194.39" r="1.75"/><circle cx="221.21" cy="195.44" r="1.75"/><circle cx="221.07" cy="196.24" r="1.68"/><circle cx="220.88" cy="197.21" r="1.76"/><circle cx="220.64" cy="198.33" r="1.71"/><circle cx="220.4" cy="199.27" r="1.64"/><circle cx="220.23" cy="199.93" r="1.68"/><circle cx="219.9" cy="201.05" r="1.73"/><circle cx="219.45" cy="202.45" r="1.73"/><circle cx="218.77" cy="204.32" r="1.6"/><circle cx="218.05" cy="206.03" r="1.62"/><circle cx="217.53" cy="207.16" r="1.76"/><circle cx="217.08" cy="208.09" r="1.59"/><circle cx="216.34" cy="209.48" r="1.74"/><circle cx="215.52" cy="210.89" r="1.66"/><circle cx="214.82" cy="212.02" r="1.63"/><circle cx="214.15" cy="213.03" r="1.63"/><circle cx="213.52" cy="213.92" r="1.68"/><circle cx="213.14" cy="214.45" r="1.77"/><circle cx="212.71" cy="215.02" r="1.6"/><circle cx="211.65" cy="216.34" r="2.24"/><circle cx="210.16" cy="218.04" r="1.8"/><circle cx="206.91" cy="221.2" r="1.94"/><circle cx="203.41" cy="223.98" r="2.42"/><circle cx="200.43" cy="225.92" r="1.66"/><circle cx="199.51" cy="226.45" r="1.62"/><circle cx="198.71" cy="226.89" r="1.67"/><circle cx="193.58" cy="229.24" r="2.95"/><circle cx="186.4" cy="231.29" r="1.75"/><circle cx="176.06" cy="232.06" r="2.51"/><circle cx="159.89" cy="228.18" r="1.66"/><circle cx="147.36" cy="219.6" r="2.9"/><circle cx="142.61" cy="214.1" r="1.92"/><circle cx="140.88" cy="211.55" r="2.01"/><circle cx="139.39" cy="208.98" r="1.76"/><circle cx="138.52" cy="207.27" r="1.65"/><circle cx="137.4" cy="204.74" r="1.75"/><circle cx="136.66" cy="202.78" r="1.98"/><circle cx="135.63" cy="199.42" r="1.64"/><circle cx="135.27" cy="197.92" r="1.66"/><circle cx="134.92" cy="196.2" r="1.66"/><circle cx="134.58" cy="194.03" r="1.66"/><circle cx="134.43" cy="192.75" r="1.66"/><circle cx="134.32" cy="191.61" r="1.59"/><circle cx="134.28" cy="190.91" r="1.63"/><circle cx="134.23" cy="189.96" r="1.75"/><circle cx="134.21" cy="189.11" r="1.67"/><circle cx="134.2" cy="188.15" r="1.71"/><circle cx="134.21" cy="187.38" r="1.75"/><circle cx="134.31" cy="185.17" r="1.73"/><circle cx="134.56" cy="182.71" r="1.63"/><circle cx="134.76" cy="181.29" r="1.76"/><circle cx="134.97" cy="180.11" r="1.74"/><circle cx="135.14" cy="179.28" r="1.77"/><circle cx="135.3" cy="178.52" r="1.73"/><circle cx="135.45" cy="177.9" r="1.73"/><circle cx="135.61" cy="177.28" r="1.74"/><circle cx="135.8" cy="176.56" r="1.63"/><circle cx="136.01" cy="175.85" r="1.72"/><circle cx="136.82" cy="173.37" r="1.66"/><circle cx="138.04" cy="170.36" r="1.74"/><circle cx="138.6" cy="169.16" r="1.6"/><circle cx="139.33" cy="167.73" r="1.7"/><circle cx="140.02" cy="166.49" r="1.81"/><circle cx="141.15" cy="164.63" r="1.74"/><circle cx="141.86" cy="163.56" r="1.66"/><circle cx="150.7" cy="154.05" r="2.97"/><circle cx="163.45" cy="146.99" r="1.75"/><circle cx="167.23" cy="145.85" r="2.5"/><circle cx="172.76" cy="144.81" r="1.9"/><circle cx="181.43" cy="144.63" r="3.05"/><circle cx="187.35" cy="145.51" r="1.73"/><circle cx="191.94" cy="146.78" r="2.38"/><circle cx="195.73" cy="148.25" r="1.93"/><circle cx="199.6" cy="150.2" r="1.68"/><circle cx="207.47" cy="155.9" r="2"/><circle cx="217.64" cy="169.67" r="2.68"/><circle cx="221.14" cy="180.74" r="1.68"/><circle cx="221.49" cy="183.11" r="1.66"/><circle cx="221.74" cy="186" r="1.74"/><circle cx="221.8" cy="187.65" r="1.74"/><circle cx="207.19" cy="189.17" r="1.88"/><circle cx="207.1" cy="190.76" r="1.74"/><circle cx="206.92" cy="192.36" r="1.78"/><circle cx="206.81" cy="193.06" r="1.75"/><circle cx="206.72" cy="193.59" r="1.7"/><circle cx="206.59" cy="194.24" r="1.77"/><circle cx="206.42" cy="194.98" r="1.65"/><circle cx="206.27" cy="195.61" r="1.87"/><circle cx="206.15" cy="196.05" r="1.74"/><circle cx="205.94" cy="196.8" r="1.68"/><circle cx="205.63" cy="197.73" r="1.68"/><circle cx="204.95" cy="199.55" r="2.12"/><circle cx="204.35" cy="200.88" r="1.73"/><circle cx="204.05" cy="201.49" r="1.8"/><circle cx="203.56" cy="202.42" r="1.79"/><circle cx="203.02" cy="203.36" r="1.87"/><circle cx="202.55" cy="204.12" r="1.89"/><circle cx="201.89" cy="205.09" r="1.93"/><circle cx="200.94" cy="206.37" r="2.32"/><circle cx="197.29" cy="210.22" r="2.45"/><circle cx="192.65" cy="213.56" r="2.01"/><circle cx="167.42" cy="215.52" r="3.31"/><circle cx="149.76" cy="195.71" r="1.86"/><circle cx="149.51" cy="194.71" r="1.77"/><circle cx="149.28" cy="193.57" r="1.88"/><circle cx="149.05" cy="192.12" r="1.83"/><circle cx="148.91" cy="190.89" r="1.8"/><circle cx="148.85" cy="190.04" r="1.83"/><circle cx="148.82" cy="189.41" r="1.87"/><circle cx="148.8" cy="188.84" r="1.82"/><circle cx="148.8" cy="187.95" r="2.02"/><circle cx="148.87" cy="186.21" r="1.79"/><circle cx="149.04" cy="184.58" r="1.88"/><circle cx="149.18" cy="183.63" r="1.84"/><circle cx="149.31" cy="182.84" r="1.74"/><circle cx="149.43" cy="182.29" r="1.78"/><circle cx="149.54" cy="181.78" r="1.78"/><circle cx="149.63" cy="181.37" r="1.89"/><circle cx="149.74" cy="180.95" r="1.85"/><circle cx="149.87" cy="180.47" r="1.71"/><circle cx="150.26" cy="179.17" r="2.17"/><circle cx="151.36" cy="176.34" r="1.66"/><circle cx="151.73" cy="175.54" r="1.83"/><circle cx="152.22" cy="174.58" r="1.8"/><circle cx="152.68" cy="173.76" r="1.85"/><circle cx="156.33" cy="168.73" r="2.19"/><circle cx="171.36" cy="159.86" r="1.87"/><circle cx="199.29" cy="168.32" r="2.9"/></g>
<path d="M159.23 210.67L149.85 221.85M158.87 227.7A43.8 43.8 0 0 1 149.85 221.85M159.23 210.67L149.85 221.85M149.85 221.85A43.8 43.8 0 0 1 142.57 214.04M142.57 214.04L130.75 222.63M136.35 229.23A58.4 58.4 0 0 1 130.75 222.63M225.6 132.96L235.12 121.89M199.25 168.27L209.88 158.26M209.88 158.26A43.8 43.8 0 0 1 210.45 158.88M210.45 158.88L221.26 149.07M216.01 143.96A58.4 58.4 0 0 1 221.26 149.07M216.01 143.96L225.51 132.87M225.51 132.87A73 73 0 0 1 225.6 132.96M142.57 214.04L130.75 222.63M130.75 222.63A58.4 58.4 0 0 1 127.94 218.38M136.35 229.23L125.93 239.47M126.56 240.1A73 73 0 0 1 125.93 239.47M158.87 227.7L152.49 240.83M156.79 242.71A58.4 58.4 0 0 1 152.49 240.83" stroke="#000" stroke-width="1.1" fill="none"/>
<path d="M156.79 242.71L151.48 256.31M151.84 256.45A73 73 0 0 1 151.48 256.31" stroke="#e00000" stroke-width="1.6" fill="none"/>
<path d="M141.01 285.18A103.7 103.7 0 0 1 139.32 284.52L150.77 256.03A73 73 0 0 0 151.96 256.5Z" fill="rgba(170,0,0,0.3)"/>
<path d="M244.38 108.63A103.7 103.7 0 0 1 246.03 110.04L225.89 133.21A73 73 0 0 0 224.73 132.22Z" fill="rgba(0,110,0,0.32)"/>
<path d="M105.83 262.77A103.7 103.7 0 0 1 104.04 260.98L125.93 239.47A73 73 0 0 0 127.2 240.72Z" fill="rgba(0,120,0,0.3)"/>
<circle cx="163.4" cy="188.3" r="3.3" fill="#ff0000" stroke="#333" stroke-width="0.5"/>
<circle cx="192.6" cy="188.3" r="1.3" fill="#c8c81c" stroke="#333" stroke-width="0.5"/>
<circle cx="199.25" cy="168.27" r="2.7" fill="#008000" stroke="#333" stroke-width="0.5"/>
<circle cx="210.45" cy="158.88" r="2.7" fill="#008000" stroke="#333" stroke-width="0.5"/>
<circle cx="216.01" cy="143.96" r="2.7" fill="#008000" stroke="#333" stroke-width="0.5"/>
<circle cx="225.6" cy="132.96" r="2.3" fill="#008000" stroke="#333" stroke-width="0.5"/>
<circle cx="235.12" cy="121.89" r="2.4" fill="#c8c81c" stroke="#333" stroke-width="0.5"/>
<circle cx="175.1" cy="217.36" r="3.3" fill="#c8c81c" stroke="#333" stroke-width="0.5"/>
<circle cx="154.5" cy="170.97" r="2.6" fill="#c8c81c" stroke="#333" stroke-width="0.5"/>
<circle cx="147.57" cy="156.79" r="3" fill="#c8c81c" stroke="#333" stroke-width="0.5"/>
<circle cx="134.81" cy="149" r="3" fill="#c8c81c" stroke="#333" stroke-width="0.5"/>
<circle cx="163.49" cy="162.96" r="2.4" fill="#c8c81c" stroke="#333" stroke-width="0.5"/>
<circle cx="163.02" cy="147.14" r="2.4" fill="#c8c81c" stroke="#333" stroke-width="0.5"/>
<circle cx="142.57" cy="214.04" r="2.8" fill="#008000" stroke="#333" stroke-width="0.5"/>
<circle cx="127.94" cy="218.38" r="2.8" fill="#008000" stroke="#333" stroke-width="0.5"/>
<circle cx="126.56" cy="240.1" r="2.1" fill="#008000" stroke="#333" stroke-width="0.5"/>
<circle cx="158.87" cy="227.7" r="2.8" fill="#ff0000" stroke="#333" stroke-width="0.5"/>
<circle cx="156.79" cy="242.71" r="2.8" fill="#ff0000" stroke="#333" stroke-width="0.5"/>
<circle cx="151.84" cy="256.45" r="2.6" fill="#ff0000" stroke="#333" stroke-width="0.5"/>
<circle cx="178" cy="188.3" r="0.5" fill="#888"/>
<text x="0" y="0" transform="translate(280.65 100.01) rotate(49.3)" font-size="7" font-weight="bold" fill="#222" text-anchor="middle" dominant-baseline="central" textLength="34.5" lengthAdjust="spacingAndGlyphs">Actinobacteria</text>
<text x="0" y="0" transform="translate(271.93 104.32) rotate(48.2)" font-size="5.5" font-weight="normal" fill="#333" text-anchor="middle" dominant-baseline="central">c</text>
<text x="0" y="0" transform="translate(75.98 247.2) rotate(240)" font-size="5.5" font-weight="normal" fill="#333" text-anchor="middle" dominant-baseline="central">d</text>
<text x="0" y="0" transform="translate(73.66 262.45) rotate(234.6)" font-size="5.5" font-weight="normal" fill="#333" text-anchor="middle" dominant-baseline="central">f</text>
<text x="0" y="0" transform="translate(122.11 302.9) rotate(206)" font-size="5.5" font-weight="normal" fill="#333" text-anchor="middle" dominant-baseline="central">i</text>
<text x="0" y="0" transform="translate(100.84 266) rotate(224.8)" font-size="4" font-weight="normal" fill="#333" text-anchor="middle" dominant-baseline="central">e</text>
<text x="0" y="0" transform="translate(254.15 98.82) rotate(40.4)" font-size="3.6" font-weight="normal" fill="#333" text-anchor="middle" dominant-baseline="central">b</text>
<text x="0" y="0" transform="translate(248.97 104.91) rotate(40.4)" font-size="3.6" font-weight="normal" fill="#333" text-anchor="middle" dominant-baseline="central">a</text>
<text x="0" y="0" transform="translate(135.13 297.7) rotate(201.4)" font-size="3.6" font-weight="normal" fill="#333" text-anchor="middle" dominant-baseline="central">h</text>
<text x="0" y="0" transform="translate(138.05 290.25) rotate(201.4)" font-size="3.6" font-weight="normal" fill="#333" text-anchor="middle" dominant-baseline="central">g</text>
<rect x="335.3" y="50.1" width="10.3" height="3.5" fill="#008000" stroke="#000" stroke-width="0.8"/>
<text x="348.9" y="53.9" font-size="5.7" font-weight="bold" textLength="52" lengthAdjust="spacingAndGlyphs" fill="#111">a: Bifidobacteriaceae</text>
<rect x="335.3" y="57.3" width="10.3" height="3.5" fill="#008000" stroke="#000" stroke-width="0.8"/>
<text x="348.9" y="61.1" font-size="5.7" font-weight="bold" textLength="47.1" lengthAdjust="spacingAndGlyphs" fill="#111">b: Bifidobacteriales</text>
<rect x="335.3" y="64.5" width="10.3" height="3.5" fill="#008000" stroke="#000" stroke-width="0.8"/>
<text x="348.9" y="68.3" font-size="5.7" font-weight="bold" textLength="41.5" lengthAdjust="spacingAndGlyphs" fill="#111">c: Actinobacteria</text>
<rect x="335.3" y="71.7" width="10.3" height="3.5" fill="#008000" stroke="#000" stroke-width="0.8"/>
<text x="348.9" y="75.5" font-size="5.7" font-weight="bold" textLength="34.1" lengthAdjust="spacingAndGlyphs" fill="#111">d: Rhizobiales</text>
<rect x="335.3" y="78.9" width="10.3" height="3.5" fill="#008000" stroke="#000" stroke-width="0.8"/>
<text x="348.9" y="82.7" font-size="5.7" font-weight="bold" textLength="38.5" lengthAdjust="spacingAndGlyphs" fill="#111">e: mitochondria</text>
<rect x="335.3" y="86.1" width="10.3" height="3.5" fill="#008000" stroke="#000" stroke-width="0.8"/>
<text x="348.9" y="89.9" font-size="5.7" font-weight="bold" textLength="54.9" lengthAdjust="spacingAndGlyphs" fill="#111">f: Alphaproteobacteria</text>
<rect x="335.3" y="93.3" width="10.3" height="3.5" fill="#ff0000" stroke="#000" stroke-width="0.8"/>
<text x="348.9" y="97.1" font-size="5.7" font-weight="bold" textLength="40.4" lengthAdjust="spacingAndGlyphs" fill="#111">g: Neisseriaceae</text>
<rect x="335.3" y="100.5" width="10.3" height="3.5" fill="#ff0000" stroke="#000" stroke-width="0.8"/>
<text x="348.9" y="104.3" font-size="5.7" font-weight="bold" textLength="36" lengthAdjust="spacingAndGlyphs" fill="#111">h: Neisseriales</text>
<rect x="335.3" y="107.7" width="10.3" height="3.5" fill="#ff0000" stroke="#000" stroke-width="0.8"/>
<text x="348.9" y="111.5" font-size="5.7" font-weight="bold" textLength="51.8" lengthAdjust="spacingAndGlyphs" fill="#111">i: Betaproteobacteria</text>
<line x1="445.9" y1="69" x2="445.9" y2="73.6" stroke="#666" stroke-width="0.9"/>
<line x1="445.9" y1="242" x2="445.9" y2="247.6" stroke="#666" stroke-width="0.9"/>
<line x1="478.1" y1="69" x2="478.1" y2="73.6" stroke="#666" stroke-width="0.9"/>
<line x1="478.1" y1="242" x2="478.1" y2="247.6" stroke="#666" stroke-width="0.9"/>
<line x1="510.3" y1="69" x2="510.3" y2="73.6" stroke="#666" stroke-width="0.9"/>
<line x1="510.3" y1="242" x2="510.3" y2="247.6" stroke="#666" stroke-width="0.9"/>
<line x1="542.5" y1="69" x2="542.5" y2="73.6" stroke="#666" stroke-width="0.9"/>
<line x1="542.5" y1="242" x2="542.5" y2="247.6" stroke="#666" stroke-width="0.9"/>
<line x1="574.7" y1="69" x2="574.7" y2="73.6" stroke="#666" stroke-width="0.9"/>
<line x1="574.7" y1="242" x2="574.7" y2="247.6" stroke="#666" stroke-width="0.9"/>
<line x1="606.9" y1="69" x2="606.9" y2="73.6" stroke="#666" stroke-width="0.9"/>
<line x1="606.9" y1="242" x2="606.9" y2="247.6" stroke="#666" stroke-width="0.9"/>
<line x1="639.1" y1="69" x2="639.1" y2="73.6" stroke="#666" stroke-width="0.9"/>
<line x1="639.1" y1="242" x2="639.1" y2="247.6" stroke="#666" stroke-width="0.9"/>
<line x1="671.3" y1="69" x2="671.3" y2="73.6" stroke="#666" stroke-width="0.9"/>
<line x1="671.3" y1="242" x2="671.3" y2="247.6" stroke="#666" stroke-width="0.9"/>
<line x1="703.5" y1="69" x2="703.5" y2="73.6" stroke="#666" stroke-width="0.9"/>
<line x1="703.5" y1="242" x2="703.5" y2="247.6" stroke="#666" stroke-width="0.9"/>
<line x1="735.7" y1="69" x2="735.7" y2="73.6" stroke="#666" stroke-width="0.9"/>
<line x1="735.7" y1="242" x2="735.7" y2="247.6" stroke="#666" stroke-width="0.9"/>
<line x1="767.9" y1="69" x2="767.9" y2="73.6" stroke="#666" stroke-width="0.9"/>
<line x1="767.9" y1="242" x2="767.9" y2="247.6" stroke="#666" stroke-width="0.9"/>
<rect x="606.9" y="77" width="138.6" height="12.3" fill="#008000" stroke="#000" stroke-width="1"/>
<text x="538.7" y="88" font-size="10.3" textLength="65.5" lengthAdjust="spacingAndGlyphs" fill="#111">Alphaproteobacteria</text>
<rect x="606.9" y="92" width="136.1" height="12.3" fill="#008000" stroke="#000" stroke-width="1"/>
<text x="568" y="103" font-size="10.3" textLength="36.2" lengthAdjust="spacingAndGlyphs" fill="#111">Rhizobiales</text>
<rect x="606.9" y="107" width="115.1" height="12.3" fill="#008000" stroke="#000" stroke-width="1"/>
<text x="557.7" y="118" font-size="10.3" textLength="46.5" lengthAdjust="spacingAndGlyphs" fill="#111">Actinobacteria</text>
<rect x="606.9" y="122" width="113.5" height="12.3" fill="#008000" stroke="#000" stroke-width="1"/>
<text x="544.7" y="133" font-size="10.3" textLength="59.5" lengthAdjust="spacingAndGlyphs" fill="#111">Bifidobacteriaceae</text>
<rect x="606.9" y="137" width="112.9" height="12.3" fill="#008000" stroke="#000" stroke-width="1"/>
<text x="551.1" y="148" font-size="10.3" textLength="53.1" lengthAdjust="spacingAndGlyphs" fill="#111">Bifidobacteriales</text>
<rect x="606.9" y="152" width="112.5" height="12.3" fill="#008000" stroke="#000" stroke-width="1"/>
<text x="557.7" y="163" font-size="10.3" textLength="46.5" lengthAdjust="spacingAndGlyphs" fill="#111">Actinobacteria</text>
<rect x="606.9" y="167" width="107.6" height="12.3" fill="#008000" stroke="#000" stroke-width="1"/>
<text x="562.4" y="178" font-size="10.3" textLength="41.8" lengthAdjust="spacingAndGlyphs" fill="#111">mitochondria</text>
<rect x="483.4" y="182" width="123.5" height="12.3" fill="#ff0000" stroke="#000" stroke-width="1"/>
<text x="610.1" y="193" font-size="10.3" textLength="27" lengthAdjust="spacingAndGlyphs" fill="#111">Bacteria</text>
<rect x="469.5" y="197" width="137.4" height="12.3" fill="#ff0000" stroke="#000" stroke-width="1"/>
<text x="610.1" y="208" font-size="10.3" textLength="62.4" lengthAdjust="spacingAndGlyphs" fill="#111">Betaproteobacteria</text>
<rect x="469" y="212" width="137.9" height="12.3" fill="#ff0000" stroke="#000" stroke-width="1"/>
<text x="610.1" y="223" font-size="10.3" textLength="45.2" lengthAdjust="spacingAndGlyphs" fill="#111">Neisseriaceae</text>
<rect x="468.3" y="227" width="138.6" height="12.3" fill="#ff0000" stroke="#000" stroke-width="1"/>
<text x="610.1" y="238" font-size="10.3" textLength="39" lengthAdjust="spacingAndGlyphs" fill="#111">Neisseriales</text>
<line x1="445.9" y1="77.5" x2="445.9" y2="241" stroke="#555" stroke-opacity="0.75" stroke-width="0.9" stroke-dasharray="1 4.3"/>
<line x1="478.1" y1="77.5" x2="478.1" y2="241" stroke="#555" stroke-opacity="0.75" stroke-width="0.9" stroke-dasharray="1 4.3"/>
<line x1="510.3" y1="77.5" x2="510.3" y2="241" stroke="#555" stroke-opacity="0.75" stroke-width="0.9" stroke-dasharray="1 4.3"/>
<line x1="542.5" y1="77.5" x2="542.5" y2="241" stroke="#555" stroke-opacity="0.75" stroke-width="0.9" stroke-dasharray="1 4.3"/>
<line x1="574.7" y1="77.5" x2="574.7" y2="241" stroke="#555" stroke-opacity="0.75" stroke-width="0.9" stroke-dasharray="1 4.3"/>
<line x1="606.9" y1="77.5" x2="606.9" y2="241" stroke="#555" stroke-opacity="0.75" stroke-width="0.9" stroke-dasharray="1 4.3"/>
<line x1="639.1" y1="77.5" x2="639.1" y2="241" stroke="#555" stroke-opacity="0.75" stroke-width="0.9" stroke-dasharray="1 4.3"/>
<line x1="671.3" y1="77.5" x2="671.3" y2="241" stroke="#555" stroke-opacity="0.75" stroke-width="0.9" stroke-dasharray="1 4.3"/>
<line x1="703.5" y1="77.5" x2="703.5" y2="241" stroke="#555" stroke-opacity="0.75" stroke-width="0.9" stroke-dasharray="1 4.3"/>
<line x1="735.7" y1="77.5" x2="735.7" y2="241" stroke="#555" stroke-opacity="0.75" stroke-width="0.9" stroke-dasharray="1 4.3"/>
<line x1="767.9" y1="77.5" x2="767.9" y2="241" stroke="#555" stroke-opacity="0.75" stroke-width="0.9" stroke-dasharray="1 4.3"/>
<text x="433.55" y="265" font-size="14" textLength="26.7" lengthAdjust="spacingAndGlyphs" fill="#000">−6.0</text>
<text x="465.75" y="265" font-size="14" textLength="26.7" lengthAdjust="spacingAndGlyphs" fill="#000">−4.8</text>
<text x="497.95" y="265" font-size="14" textLength="26.7" lengthAdjust="spacingAndGlyphs" fill="#000">−3.6</text>
<text x="530.15" y="265" font-size="14" textLength="26.7" lengthAdjust="spacingAndGlyphs" fill="#000">−2.4</text>
<text x="562.35" y="265" font-size="14" textLength="26.7" lengthAdjust="spacingAndGlyphs" fill="#000">−1.2</text>
<text x="599.05" y="265" font-size="14" textLength="17.5" lengthAdjust="spacingAndGlyphs" fill="#000">0.0</text>
<text x="631.5" y="265" font-size="14" textLength="17" lengthAdjust="spacingAndGlyphs" fill="#000">1.2</text>
<text x="663.5" y="265" font-size="14" textLength="17.4" lengthAdjust="spacingAndGlyphs" fill="#000">2.4</text>
<text x="695.7" y="265" font-size="14" textLength="17.4" lengthAdjust="spacingAndGlyphs" fill="#000">3.6</text>
<text x="727.9" y="265" font-size="14" textLength="17.4" lengthAdjust="spacingAndGlyphs" fill="#000">4.8</text>
<text x="760" y="265" font-size="14" textLength="17.6" lengthAdjust="spacingAndGlyphs" fill="#000">6.0</text>
<text x="552.5" y="286.5" font-size="14.6" textLength="109.5" lengthAdjust="spacingAndGlyphs" fill="#000">LDA SCORE (log 10)</text>
</svg>
</body></html>
